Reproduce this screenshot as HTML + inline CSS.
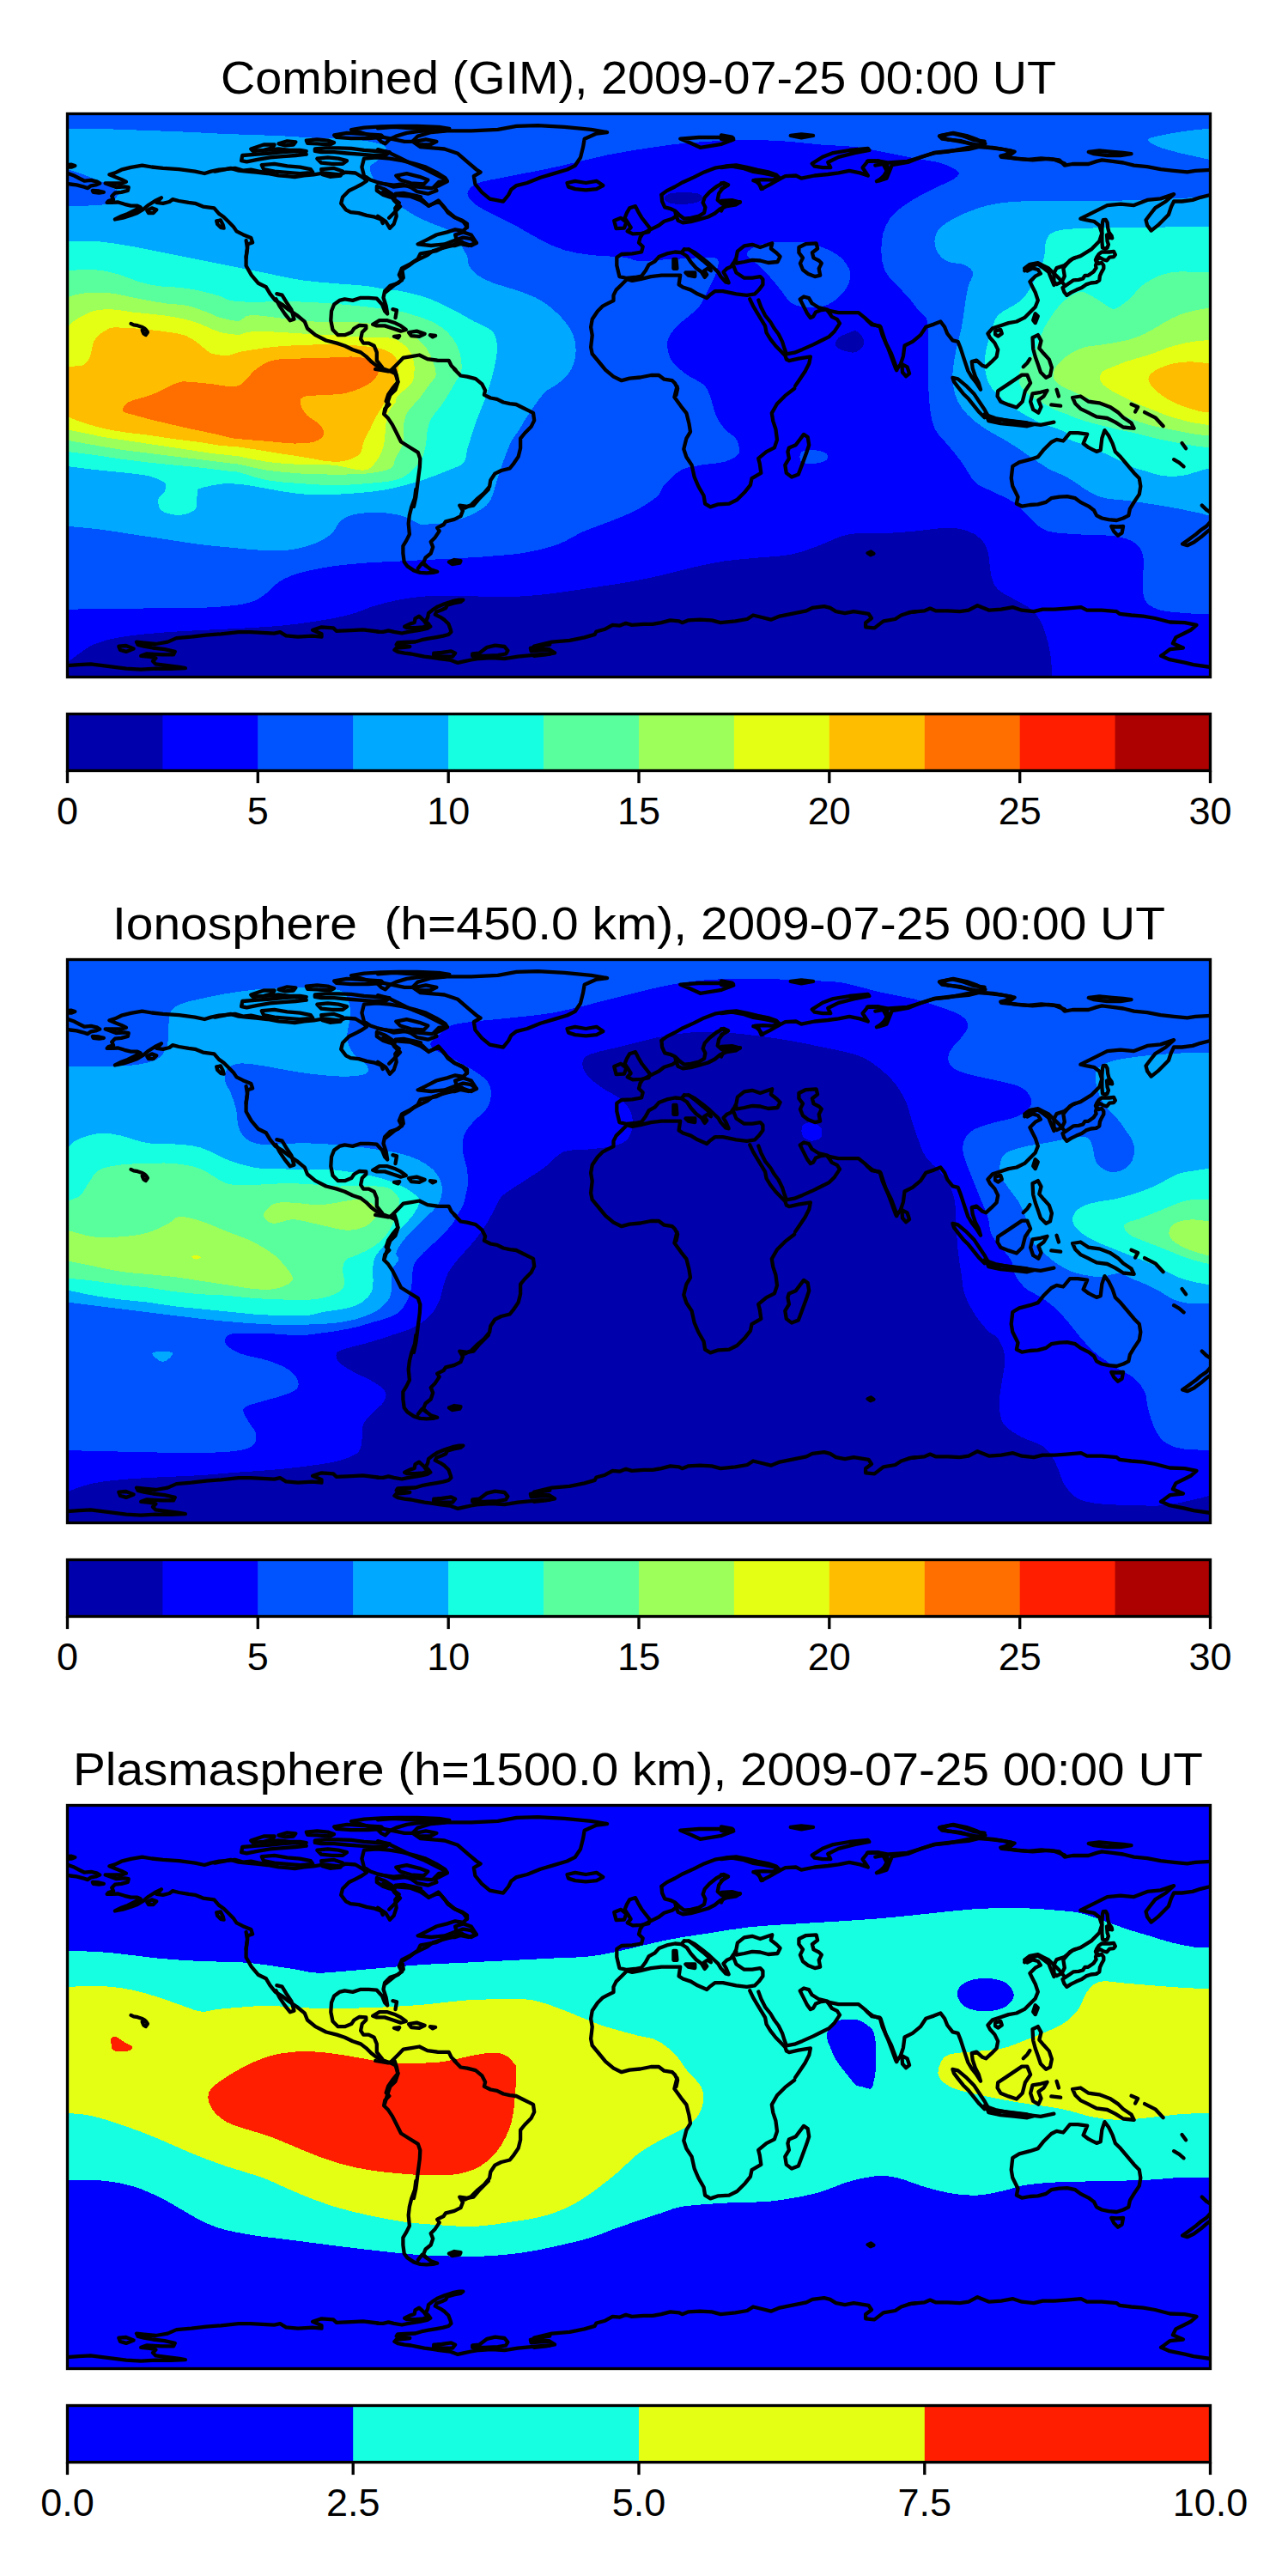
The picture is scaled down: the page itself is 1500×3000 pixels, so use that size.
<!DOCTYPE html><html><head><meta charset="utf-8"><style>html,body{margin:0;padding:0;background:#fff;}svg{display:block;}text{font-family:"Liberation Sans",sans-serif;fill:#000;}</style></head><body>
<svg width="1500" height="3000" viewBox="0 0 1500 3000">
<rect width="1500" height="3000" fill="#fff"/>
<defs><clipPath id="mc"><rect x="78.5" y="132.5" width="1331.0" height="656.0"/></clipPath>
<g id="coast" fill="none" stroke="#000" stroke-width="4.3" stroke-linejoin="round" stroke-linecap="round">
<path d="M78 192.1 82.7 191.6 87.3 193 83.6 194.5 78 194.5"/>
<path d="M78 201.4 85.5 204.2 92.9 208 98.5 210.7 106 209.8 113.4 211.7 116.2 213.5 111.5 215.4 106 216.3 102.2 219.1 96.6 217.3 89.2 215.4 81.7 214.5 78 213.5"/>
<path d="M107.8 221.9 115.3 222.5 120.9 223.8 115.3 224.7 108.7 223.8Z"/>
<path d="M286.7 300 287.6 291.8 288.6 284.3 294.1 282.5 292.3 276.9 283 273.2 275.5 269.4 271.8 263.9 266.2 258.3 260.6 252.7 255 248.9 249.4 242.4 236.4 240.6 227.1 236.8 219.6 235.9 208.4 234 201 232.2 197.3 235 189.8 236.8 182.3 235.9 187.9 230.3 180.5 234 173 238.7 167.4 243.4 160 248 152.5 250.8 143.2 253.6 133.9 255.5 141.4 251.7 148.8 248.9 156.3 245.2 163.7 241.5 160 239.6 152.5 239.6 145.1 237.8 137.6 235.5 130.2 235.9 124.6 235.9 126.4 234 132 232.2 130.2 228.4 133.9 224.7 141.4 223.8 148.8 221.9 149.7 218.2 145.1 217.3 135.8 218.2 128.3 215.4 122.7 213.5 133.9 213.5 141.4 213.5 146.9 211.7 141.4 208.9 133.9 206.1 127.4 203.3 133.9 201.4 141.4 197.7 152.5 194.9 165.6 192.7 176.8 194.5 189.8 195.8 208.4 197.1 227.1 199.6 238.2 202 245.7 199.6 255 197.7 264.3 196.8 273.7 195.8 283 198.6 292.3 197.7 301.6 199.6 310.9 201.4 318 202"/>
<path d="M171.2 245.2 176.8 242.4 182.3 244.3 178.6 248 173 248Z"/>
<path d="M252.2 257.3 256.9 256.4 259.7 262 260.6 265.7 256.9 264.8 253.2 261.1Z"/>
<path d="M250 199.6 259.3 197.8 268.6 195.9 278 198.7 287.3 199.6 298.4 200.6 311.5 202 324.5 204.3 333.9 205.2 343.2 206.1 354.3 204.3 365.5 203.4 376.7 201.5 386 202.4 395.3 203.4 402.8 200.6 414 201.5 423.3 207.1 427 210.8 421.4 214.5 414 218.3 406.5 222 399.1 229.4 397.2 236.9 402.8 244.3 408.4 247.1 417.7 248.1 427 250.9 436.3 252.7 443.8 255.5 445.7 260"/>
<path d="M453.1 253.7 460.6 246.2 466.1 240.6 458.7 233.2 460.6 225.7 469.9 224.8 482.9 227.6 490 229.4"/>
<path d="M480.4 164.8 489.7 171.1 517.6 173.5 533.2 178.8 545.6 189.7 554.9 197.5 559.6 200.6 551.8 205.2 553.4 214.5 561.1 223.9 570.4 231.6 586 234.7 592.2 227 595.3 220.7 601.5 216.1 613.9 213 629.4 206.8 645 202.1 660.5 197.5 669.8 192.8 676 183.5 679.1 171.1 680.7 161.7 694.7 155.5 707.1 154 688.4 150.9 657.4 147.8 626.3 146.2 601.5 146.8 579.8 150.9 548.7 152.4 520.7 152.4 502.1 154 486.6 158.6Z"/>
<path d="M660.5 213 669.8 210.8 682.2 213 694.7 210.8 702.4 216.1 694.7 220.1 682.2 221.4 669.8 220.1 662 217.6Z"/>
<path d="M440 174.2 452.4 177.3 464.8 183.5 477.3 189.7 492.8 195.9 502.1 200.6 514.5 206.8 520.7 211.4 511.4 216.1 502.1 219.2 486.6 217.6 471.1 216.1 458.6 217.6 449.3 214.5 440 213"/>
<path d="M440 149.3 458.6 147.8 480.4 149.3 502.1 150.9 517.6 152.4"/>
<path d="M440 158.6 455.5 161.7 471.1 164.8 480.4 164.8"/>
<path d="M440 251.8 449.3 258 454 265.8 458.6 261.1 461.7 251.8 460.2 242.5 464.8 236.3 458.6 231.6 446.2 223.9"/>
<path d="M446.2 223.9 458.6 227 477.3 228.5 489.7 233.2 499 239.4 511.4 234.7 520.7 245.6 530.1 253.4 539.4 258 544 264.2 539.4 268.9 530.1 267.3 520.7 270.4 508.3 273.5 495.9 279.8 486.6 284.4 502.1 286 517.6 284.4 530.1 279.8 539.4 276.6 548.7 278.2 554.9 282.9 548.7 286 539.4 282.9 530.1 286 520.7 286 508.3 292.2 489.7 295.3 486.6 301.5 477.3 307.7 468 312.4 464.8 320.1 468 326.3 458.6 332.5 449.3 340"/>
<path d="M530.1 273.5 539.4 270.4 548.7 273.5 554.9 282.9 545.6 286 533.2 283.5Z"/>
<path d="M286.6 280 288.1 289.3 286.6 298.6 286.6 309.5 292.8 320.4 300.6 329.7 309.9 334.3 314.5 342.1 320.7 349.9 328.5 354.5 336.3 360.7 345.6 367 354.9 374.7 358 382.5 367.3 390.2 379.8 396.5 392.2 399.6 401.5 402.7 410.8 407.3 420.1 410.4 426.3 415.1 432.5 421.3 438.8 426 445 429.1 454.3 432.2 460.5 435.3 463.6 444.6 460.5 453.9 454.3 460.1 451.2 469.4 448.1 480"/>
<path d="M322.3 342.1 328.5 343.7 333.2 351.4 339.4 360.7 342.5 371.6 337.8 373.2 331.6 365.4 325.4 356.1 321.4 348.3"/>
<path d="M445 427.5 438.8 419.8 438.8 410.4 435.7 402.7 429.4 399.6 423.2 399.6 420.1 394.9 421.7 387.1 426.3 382.5 426.3 379.4 418.6 378.8 412.4 382.5 409.3 387.1 401.5 390.2 393.7 390.2 387.5 384 385.3 373.2 386 362.3 389.1 354.5 395.3 349.9 401.5 348.3 410.8 349.9 420.1 346.8 429.4 346.8 438.8 347.7 445 354.5 448.1 362.3 451.2 365.4 449.6 356.1 446.5 346.8 448.1 339 454.3 332.8 463.6 329.7 469.8 323.5 468.3 314.2 476 309.5 482.2 304.8 488.4 301.7 497.8 297.1 504 292.4 513.3 289.3 525.7 286.2 531.9 283.1 538.1 281.6"/>
<path d="M454.3 432.2 463.6 422.9 469.8 416.6 479.1 415.1 488.4 413.5 497.8 418.2 510.2 419.8 522.6 419.8 525.7 426 530.4 430.6"/>
<path d="M434.1 377.8 441.9 373.2 451.2 373.2 460.5 376.3 466.7 379.4 472.9 384 466.7 385.6 457.4 382.5 448.1 379.4 438.8 379.4Z"/>
<path d="M476 387.1 485.3 385.6 494.7 388.7 488.4 391.8 479.1 391.2Z"/>
<path d="M458.9 391.8 465.2 391.2 463.6 393.4Z"/>
<path d="M500.9 390.2 507.1 390.9 504 392.4Z"/>
<path d="M457.4 360.1 462 361.4 460.5 370.1"/>
<path d="M152.5 376.9 155.6 378.4 160.3 379.2 165 380.7 168.1 382.3 170.4 384.6 171.9 387 169.6 390.1 167.3 388.5 165.7 384.6"/>
<path d="M437.1 430 444.6 431.2 452 432.5 459.5 430 462 437.5 463.2 444.9 457 452.4 452 459.8 449.6 467.3 453.3 471 448.3 476 447.1 482.2 452 487.1 457 494.6 462 504.5 467 514.5 476.9 520.7 486.8 526.9 489.3 534.3 488.8 544.3 486.8 559.2 485.6 569.1 484.3 579.1 481.9 590"/>
<path d="M529.1 430 536.5 437.5 544 438.7 553.9 441.2 561.4 447.4 565.1 454.8 563.9 459.8 571.3 463.5 578.8 464.8 586.2 468.5 593.7 470.2 601.1 471 608.6 474.7 616 478.4 621 480.9 622.2 489.6 618.5 497.1 611.1 504.5 606.1 510.7 606.1 521.9 603.6 531.9 598.6 539.3 593.7 545.5 583.7 548 576.3 551.7 571.3 559.2 570.1 566.6 563.9 574.1 556.4 580.3 548.9 587.8 541.5 591.5"/>
<path d="M484.3 570 483.1 579.9 479.4 589.9 476.9 599.8 475.7 609.8 476.9 622.2 473.2 629.6 469.4 635.8 469.4 644.5 470.7 654.5 474.4 659.4 481.9 664.4 489.3 666.9 496.8 667.4 504.2 666.9 509.2 665.7 501.7 663.2 496.8 659.4 493 655.7 495.5 649.5 501.7 644.5 504.2 637.1 501.7 630.9 506.7 625.9 511.7 618.4 509.2 614.7 516.6 611 519.1 607.3 529.1 604.8 536.5 601.1 539 594.8 535.3 588.6 544 589.9 551.4 588.6 558.9 579.9 566.3 572.5 568.8 570"/>
<path d="M486.8 661.9 491.8 655.7 496.8 659.4"/>
<path d="M522.9 654.5 529.1 652 536.5 653.2 535.3 655.7 526.6 657Z"/>
<path d="M798.4 317.5 809.3 317.5 809.3 322.1 801.5 320.6Z"/>
<path d="M784.4 301.9 787.5 301.9 788.4 312.8 784.4 312.8Z"/>
<path d="M857.4 300.4 858.9 292.6 866.7 286.4 876 284.8 885.3 288 894.7 284.8 899.3 283.3 897.8 289.5 904 294.2 908.6 298.8 905.5 305 894.7 306 885.3 303.5 876 302.9 866.7 305 857.4 306.6 855.8 303.5Z"/>
<path d="M930.4 288 938.1 284.2 950.6 283.3 952.1 289.5 945.9 294.2 947.5 300.4 953.7 303.5 956.8 306.6 953.7 312.8 955.2 320.6 949 322.1 941.2 319 935 314.3 931.9 306.6 935 300.4 930.4 294.2Z"/>
<path d="M854.3 309.7 857.4 317.5 866.7 323.7 876 323.7 885.3 322.1 888.4 325.2 888.4 331.4 883.8 337.6 879.1 342.3 869.8 343.9 857.4 342.3 841.9 339.2 832.5 339.2 826.3 343.9 823.2 347 812.4 342.3 804.6 337.6 795.3 334.5 790.6 331.4 792.2 320.6 782.9 320.6 770.4 320.6 758 322.1 745.6 325.2 736.3 326.8 730.1 325.2 723.9 331.4 717.6 337.6 714.5 343.9 714.5 350.1 708.3 353.2 702.1 356.3 695.9 362.5 689.7 371.8 688.1 381.1 689.7 390.4 688.1 404.4 689.7 412.2 697.5 421.5 705.2 430.8 714.5 438.6 723.9 443.2 733.2 440.7 745.6 439.5 758 437 767.3 437 773.5 441.7 782.9 443.2 786 446.3 789.1 452.5 787.5 460"/>
<path d="M788.5 450 785.4 462.4 793.2 473.3 799.4 481.1 802.5 493.5 804 502.8 799.4 510.6 796.3 523 799.4 532.3 805.6 541.6 808.7 555.6 813.4 566.5 819.6 577.3 821.1 586.6 827.3 590.4 836.6 587.3 849.1 586.6 858.4 582 867.7 572.7 873.9 564.9 875.5 557.1 886.3 550.9 884.8 540.1 883.2 533.9 892.5 526.1 901.9 521.4 905 512.1 903.4 499.7 900.3 490.4 898.8 481.1 905 470.2 914.3 460.9 925.2 452.5"/>
<path d="M918.9 521.4 926.7 518.3 936 505.9 940.7 509 942.2 518.3 939.1 527.6 934.5 540.1 929.8 552.5 922 555.6 915.8 550.9 914.3 541.6 918.9 533.9 917.4 526.1Z"/>
<path d="M1010.6 644.1 1014.3 642.5 1017.4 644.7 1013.7 646.3Z"/>
<path d="M840 195.2 852.4 193.7 864.8 195.8 877.3 199.9 889.7 202 902.1 204.5 906.8 209.2 895.9 215.4 886.6 220.1 883.5 212.3 877.3 210.1"/>
<path d="M906.8 209.2 914.5 205.2 927 204.5 933.2 207.6 948.7 204.5 964.2 203 976.6 201.4 989.1 198.9 1001.5 201.4 1010.8 204.5 1004.6 195.2 1010.8 187.5 1023.2 187.5 1032.5 190.6 1034.1 196.8 1029.4 204.5 1023.2 210.7 1032.5 207.6 1035.7 199.9 1038.8 192.1 1057.4 189 1072.9 182.8 1088.4 178.1 1104 176.6 1119.5 173.5 1135 170.4 1150.6 171.9 1166.1 173.5 1181.6 176.6 1175.4 181.2 1166.1 182.8 1181.6 184.3 1197.1 185.9 1212.7 184.3 1228.2 185.9 1240 190.6"/>
<path d="M945.6 190.6 958 182.8 970.4 178.1 989.1 175 1010.8 172.9 1012.4 175 995.3 178.1 976.6 182.8 964.2 189 967.3 195.2 958 195.2 948.7 193.7Z"/>
<path d="M920.7 158 933.2 156.4 947.1 158 933.2 160.4Z"/>
<path d="M1094.7 158 1110.2 154.8 1125.7 158 1138.1 162.6 1147.5 167.3 1135 168.8 1119.5 164.2 1104 162.6Z"/>
<path d="M840 157.3 852.4 159.5 854 161.1 843.1 162.6 840 162"/>
<path d="M840 213.2 847.8 215.4 843.1 218.5 840 220.1"/>
<path d="M840 234 852.4 233.1 861.7 235.6 852.4 238.1 843.1 239.3 840 245.5"/>
<path d="M1010 187.9 1022.4 187.3 1034.8 189.5 1056.6 187.9 1072.1 183.2 1087.6 178 1109.4 175.5 1128 173.9 1140.4 170.8 1156 171.8 1177.7 175.5 1171.5 180.1 1165.3 181.7 1183.9 184.8 1202.5 186.3 1221.2 184.8 1233.6 186.3 1239.8 192.6 1249.1 191 1267.8 191 1277.1 187.9 1283.3 186.3 1295.7 187.9 1308.1 189.5 1320.6 192.6 1336.1 194.1 1351.6 197.2 1367.1 198.8 1382.7 200.3 1392 198.8 1410.6 197.8"/>
<path d="M1093.9 158.4 1109.4 155.3 1121.8 158.4 1134.2 163.1 1146.6 164.6 1140.4 169.3 1124.9 166.2 1109.4 163.1 1097 161.5Z"/>
<path d="M1267.8 177 1280.2 175.5 1295.7 177 1308.1 178 1317.5 179.2 1305 181.1 1289.5 181.1 1274 179.2Z"/>
<path d="M1019.3 192.6 1028.6 191 1033.3 200.3 1028.6 206.5 1020.9 211.2"/>
<path d="M1239.8 332 1233.6 324.5 1227.4 318.3 1230.5 312.1 1239.8 309 1249.1 301.3 1258.4 298.1 1270.9 290.4 1280.2 281.1 1283.3 271.8 1280.2 262.4 1274 257.8 1264.7 256.2 1258.4 254.7 1274 246.9 1289.5 239.1 1305 237.6 1320.6 239.1 1336.1 232.9 1351.6 231.4 1367.1 226.1 1357.8 234.5 1345.4 242.2 1339.2 250 1334.5 256.2 1336.1 262.4 1340.7 268.6 1348.5 262.4 1354.7 256.2 1360.9 250 1364 240.7 1367.1 234.5 1376.5 234.5 1388.9 232.9 1398.2 229.8 1410.6 226.7"/>
<path d="M1193.2 315.2 1199.4 310.6 1208.8 307.5 1215 312.1 1221.2 316.8 1224.3 324.5 1227.4 332"/>
<path d="M1010 373 1016.2 377.6 1025.5 380.7 1028.6 390.1 1031.7 399.4 1038 411.8 1042.6 424.2 1044.2 430.4 1048.8 424.2 1051.9 414.9 1053.5 402.5 1062.8 397.8 1072.1 390.1 1078.3 380.7 1087.6 377.6 1095.4 374.5 1100.1 380.7 1103.2 388.5 1109.4 396.3 1115.6 397.8 1118.7 405.6 1121.2 413.4 1124.3 422.7 1127.4 432 1131.7 439.1 1136.7 445.3 1142 453.7 1139.8 446 1135.8 438.2 1132.7 428.9 1131.7 421.1 1137.3 419.6 1144.2 425.8 1148.2 427.3 1154.4 421.7 1160.6 415.5 1162.2 407.1 1158.4 399.4 1152.9 393.2 1150.4 388.5 1156 382.3 1165.3 379.2 1174.6 376.1 1183.9 374.5 1193.2 369.9 1199.4 363.7 1205.7 357.5 1208.8 349.7 1205.7 340.4 1202.5 334.2 1199.4 328 1205.7 321.7 1211.9 318.6 1208.8 314 1202.5 312.4 1196.3 315.5 1193.2 312.4 1199.4 307.8 1208.8 306.2 1215 309.3 1221.2 312.4 1227.4 318.6 1227.4 328 1230.5 331.1 1236.7 328 1239.8 321.7 1238.3 312.4 1246 303.1 1252.2 300"/>
<path d="M1050.4 424.2 1056.6 427.3 1059.1 435.1 1055 438.2 1051 433.5Z"/>
<path d="M1159.1 385.4 1165.3 383.9 1166.8 388.5 1162.2 391.6 1159.1 389.4Z"/>
<path d="M1205.7 365.2 1208.8 368.3 1205.7 376.1 1203.2 373Z"/>
<path d="M1202.5 393.2 1208.8 390.1 1212.5 396.9 1210.3 405.6 1215.6 411.8 1221.8 418.6 1224.9 428 1223 437.3 1218.1 439.8 1211.9 433.5 1208.8 424.2 1205.7 415.5 1203.2 406.2Z"/>
<path d="M1191.7 427.3 1196.3 422.7 1199.4 418"/>
<path d="M1109.4 439.8 1115.6 441.3 1124.9 449.1 1134.2 458.4 1140.4 467.7 1146.6 477 1150.4 483.9 1146.6 486.3 1140.4 480.1 1134.2 472.4 1128 464.6 1121.8 458.4 1115.6 450.6 1110.9 444.4Z"/>
<path d="M1162.2 455.3 1171.5 449.1 1180.8 442.9 1190.1 436.6 1196.3 436.6 1200.1 446 1193.9 455.3 1190.7 467.7 1183.9 474.5 1174.6 471.4 1165.3 467.7 1161.6 461.5Z"/>
<path d="M1149.8 486.3 1159.1 487.9 1171.5 489.4 1183.9 491 1196.3 492.5 1203.2 494.4 1196.3 496.3 1180.8 494.7 1165.3 493.2 1151.3 490.1Z"/>
<path d="M1202.5 458.4 1211.9 456.8 1219.6 454.7 1215.6 461.5 1209.4 466.1 1212.5 473.9 1209.4 480.7 1203.2 477 1200.1 467.7Z"/>
<path d="M1249.1 463 1258.4 461.5 1267.8 467.7 1280.2 469.3 1292.6 473.9 1301.9 480.1 1308.1 486.3 1317.5 492.5 1320.6 498.8 1308.1 497.5 1298.8 491.6 1289.5 487 1277.1 485.4 1267.8 480.7 1258.4 476.1 1252.2 469.9Z"/>
<path d="M1224.3 471.4 1235.2 472.7"/>
<path d="M1230.5 453.7 1233 461.5"/>
<path d="M1317.5 470.8 1325.2 473.9 1322.1 479.5"/>
<path d="M1333 480.1 1345.4 486.3 1354.7 496.3"/>
<path d="M1179.3 543 1187 538.3 1199.4 535.2 1208.8 532.1 1215 524.3 1224.3 515 1230.5 511.9 1238.3 513.5 1246 504.2 1255.3 504.2 1266.2 505.7 1261.6 516.6 1267.8 521.2 1277.1 525.9 1281.7 524.3 1283.3 510.4 1286.4 501.1 1291.1 507.3 1295.7 516.6 1298.8 525.9 1305 532.1 1312.8 541.4 1320.6 550.7 1326.8 557 1328.3 566.3 1326.8 575.6 1320.6 584.9 1315.9 592.7 1314.3 600.4 1308.1 603.5 1300.4 606 1291.1 605.1 1283.3 603.5 1277.1 600.4 1274 594.2 1267.8 589.6 1258.4 584.9 1252.2 580.2 1242.9 578.1 1233.6 578.7 1224.3 580.2 1218.1 584.9 1208.8 587.4 1199.4 588 1190.1 589.6 1183.9 586.5 1185.5 578.7 1182.4 572.5 1179.3 566.3 1177.7 557Z"/>
<path d="M1294.2 612.9 1300.4 613.5 1308.1 612.9 1306.6 620.6 1301.9 623.7 1297.3 619.1Z"/>
<path d="M1399.8 588.6 1405 593.6 1410.6 597.3"/>
<path d="M1410.6 606.6 1405 612.9 1398.2 617.5 1392 622.8 1384.2 628.4 1377.1 633.4 1382.7 635.2 1390.4 631.5 1398.8 625.3 1406 619.1 1410.6 616"/>
<path d="M1376.5 516 1381.1 522.2"/>
<path d="M1367.1 535.2 1373.4 538.9 1378.6 543.3"/>
<path d="M1146.6 482.4 1159.1 487.1 1174.6 490.2 1187 491.7 1199.4 493.3 1211.9 494.8 1227.4 491.7"/>
<path d="M78 775.1 91.8 774.1 105.6 773.4 119.4 775.1 133.2 776.9 146.9 778.6 164.2 779.6 181.4 778.6 198.7 778.9 215.9 778.2 209 776.9 195.2 775.1 181.4 773.4 178 770 181.4 766.5 174.5 764.8 164.2 763.8 171.1 761.4 188.3 762.4 202.1 762.4 203.8 758.9 191.8 756.2 178 754.5 167.6 752.7 160.7 751 159 747.6 167.6 748.6 181.4 750 195.2 747.6 205.5 743.1 222.8 741.7 240 739.6 257.3 738.3 277.9 736.2 291.7 736.2 305.5 736.9 319.3 737.6 326.2 736.2 333.1 740.3 346.9 741.7 364.1 740.7 374.5 741.7 374.5 738.3 364.1 733.8 374.5 730.3 388.2 731.4 391.7 734.8 408.9 734.1 422.7 733.4 440 735.5"/>
<path d="M138.3 752.7 146.9 752 155.6 755.5 146.9 758.9 140 756.9Z"/>
<path d="M440 735.9 446.2 735.9 452.4 734.3 458.6 735.9 468 737.5 475.7 735.9 483.5 734.7 489.7 733.6 497.5 732 501.3 729.7 499 726.6 495.9 723.5 498.2 718.8 499 714.2 503.7 710.3 509.9 706.4 517.6 703.3 527 700.2 534.7 698.6 539.4 698.6 536.3 701 528.5 702.5 520.7 704.8 519.2 708 514.5 710.3 508.3 712.6 506.8 715.7 513 718.8 517.6 721.9 522.3 726.6 524.6 732.8 525.4 735.9 522.3 739 516.1 740.6 508.3 742.1 499 743.7 491.2 745.2 483.5 747.5 471.1 748 463.3 748.3 461.7 750.7 471.1 752.2 477.3 753 471.1 753.8 461.7 754.5 459.4 756.9 463.3 759.2 471.1 760.7 478.8 761.5 486.6 763.1 494.3 764.6 502.1 765.7 511.4 767 523.9 768.5 533.2 771.9 540.9 770.1 548.7 768.5 558 767 572 766.2 587.5 767 593.7 766.2 603 764.6 610.8 763.9 618.6 763.1 626.3 762.3 640.3 761.5"/>
<path d="M471.1 729.7 477.3 726.6 482.7 725 483.5 720.4 488.1 717.7 493.6 722.7 497.5 728.1 492.8 730.5 483.5 731.2 474.2 731.2Z"/>
<path d="M505.2 760.7 514.5 760 525.4 758.4 530.1 760.7 527 764.6 514.5 764.6 505.2 763.9Z"/>
<path d="M550.2 761.5 558 760.7 567.3 753.8 576.6 751.7 587.5 753 591.4 757.6 589.1 761.5 579.8 763.1 564.2 763.9 550.2 763.9Z"/>
<path d="M640.3 750.7 626.3 753 617.8 754.8 618.6 758.4 626.3 757.6 640.3 756.9"/>
<path d="M622 752.7 642.7 747.6 663.4 745.8 680.6 742.4 692.7 738.9 694.4 735.5 704.7 732.7 713.4 727.9 722 728.6 728.9 725.8 735.8 727.9 749.5 726.9 759.9 726.9 770.2 725.2 780.6 722.4 790.9 723.4 794.4 725.2 801.3 722.4 815 721.7 828.8 722.4 839.2 725.2 856.4 723.4 870.2 721 877.1 716.5 887.4 719 897.8 721.7 908.1 717.6 925.4 714.1 939.1 711.4 946 707.9 959.8 706.2 966.7 707.9 973.6 712.1 984 714.1 994.3 712.1 1011.5 714.8 1015 720 1008.1 725.2 1008.1 730.3 1018.4 731.4 1028.8 723.4 1042.6 721 1049.5 716.5 1059.8 713.1 1066.7 712.1"/>
<path d="M622 756.2 639.2 756.2 646.1 760.3 635.8 762.4 622 763.8"/>
<path d="M1059.1 713.1 1076.3 711.4 1083.2 708.6 1090.1 711.4 1103.9 711.4 1117.7 712.1 1128 710.7 1138.4 705.2 1152.1 710.7 1165.9 709.6 1179.7 707.2 1190.1 710.7 1203.9 712.1 1214.2 709.6 1228 709.6 1241.8 708.6 1259 707.2 1265.9 710.7 1283.1 710.7 1300.4 712.1 1303.8 714.8 1317.6 716.5 1331.4 717.6 1345.2 720 1362.4 724.5 1379.7 725.2 1393.5 727.9 1386.6 733.8 1379.7 737.2 1369.3 742.4 1365.9 749.3 1377.9 754.5 1362.4 756.2 1355.5 761.4 1352.1 763.8 1362.4 768.2 1379.7 771.7 1390 774.1 1414.1 777.6"/>
<path d="M770.4 226.8 776.6 222.1 786 217.5 795.3 212.2 807.7 206.6 820.1 200.4 832.5 195.7 845 193.5 857.4 192.3 869.8 194.8 882.2 197.9 894.7 200.4 904 203.5 907.7 207.2 899.3 209.7 888.4 209.1 879.1 209.7 883.8 214.3 888.4 219.6"/>
<path d="M770.4 226.8 771.1 234.5 774.2 241.4 781.3 243.2 786 245.4 791.6 250.7 796.8 254.7 804.6 253.8 813.9 251.6 820.1 247.9 821.4 241.4 818.6 236.1 820.7 229.9 826.3 223.7 834.1 217.5 842.5 212.8 848.1 215.3 841.9 219 837.2 225.2 835.7 233 840.3 237 851.2 235.2 862 235.2 857.4 238.3 846.5 240.1 838.8 243.2 832.5 248.5 824.8 252.5 813.9 255.7 804.6 258.1 795.3 259.4 789.7 256.9 787.5 251.6 786 245.4"/>
<path d="M733.2 242.3 740 240.1 743.1 246.3 747.1 253.2 752.4 260 756.8 265.6 755.5 270.2 747.1 271.8 736.9 272.4 730.7 269.3 734.7 265 731.6 260 727.6 253.8 730.1 247.6Z"/>
<path d="M715.2 256.9 723.2 253.8 729.4 258.8 727 265.6 717.6 266.2Z"/>
<path d="M787.5 251.6 782.9 254.7 773.5 257.8 767.3 262.5 758 267.1 748.7 271.8 745.6 276.5 744 282.7 748.7 287.3 747.1 293.5 736.3 295.4 723.9 296 718.3 299.8 718.3 309.1 720.1 316.8 721.4 322.1 730.1 324 739.4 323 747.1 321.5 751.8 315.3 755.5 308.4 762.7 304.4 767.3 299.1 776.6 295.4 786 293.5 793.7 294.2 796.8 290.4"/>
<path d="M792.2 161.6 804.6 166.8 815.5 171.8 827.9 169.9 840.3 167.8 854.3 162.5 838.8 160 813.9 160Z"/>
<path d="M793.7 294.2 799.9 298.2 804.6 305.3 810.8 312.2 817 316.8 820.7 323 823.2 319.9 820.1 315.3 823.9 312.8 827.9 315.3 825.7 309.7 818.6 303.5 810.2 296.6 802.1 290.4 796.8 290.4"/>
<path d="M802.1 290.4 809.3 294.2 817.6 300.4 826.3 307.5 831.9 312.8 836.3 316.8 839.4 322.1 845 328.3 848.7 329.3 845.6 322.1 842.5 316.8 846.5 312.8 851.2 310.6 854.3 306 857.4 302.9"/>
<path d="M1284.7 256.2 1287.8 255.9 1289.6 259.3 1290.2 265.5 1291.5 270.5 1294.6 274.8 1295.2 277.3 1290.9 276.7 1289 273.6 1289.6 281.1 1290.9 284.8 1289.6 288.5 1287.1 289.8 1284 288.5 1283.4 281.1 1283.4 267.4 1284 259.3Z"/>
<path d="M1276 302.8 1277.2 299.7 1279.7 296 1283 293.5 1292.1 293.5 1297.1 292.9 1298.9 296.6 1297.1 299.1 1292.1 299.7 1289 303.4 1284.7 302.2 1281 300Z"/>
<path d="M1276 302.8 1277.2 305.9 1276 309 1276.6 312.1 1273.5 316.5 1267.3 320.8 1263.5 320.8 1261.1 324.5 1256.1 325.8 1249.9 326.4 1243.7 330.7 1237.5 335.1 1239.3 340.1 1242.4 343.8 1247.4 340.7 1253.6 337.6 1259.8 335.1 1264.8 331.4 1270.4 329.5 1276.6 328.9 1280.3 326.4 1280.9 321.4 1282.8 317.1 1285.3 312.7 1285.3 309 1282.8 305.9 1279.7 307.1Z"/>
<path d="M491.8 232.6 499.3 240 510.4 233.5 517.9 241.9 521.6 247.5 529.1 253.1 538.4 256.8 544 260.5 544 265"/>
<path d="M873.2 348.3 877.1 356.4 881.7 364.2 886.4 371.9 891.1 379.7 892.6 387.5 897.3 395.2 903.5 403 909.7 409.2 914.3 413.9 915.9 418.5 919 420.1 929.9 417.7 943.9 415.4 942.3 423.2 937.6 432.5 931.4 441.8 926 449.6"/>
<path d="M883.3 349.4 886.4 358 891.1 367.3 897.3 375 901.9 382.8 906.6 389 911.2 398.3 913.6 406.1 915.9 412.3 925.2 410.7 934.5 406.9 947 401.4 956.3 396.8 965.6 392.1 971.8 385.9 978 376.6 974.9 371.9 968.7 368.8 965.6 364.2 962.5 360.3 956.3 361.1 950.1 363.4 947 368.8 943.9 370.1 940 364.9 935.3 355.6 931.7 348.6 936.1 345.5 942 347.1 945.7 353.3 953.2 358 962.5 360.3 965.6 361.8 976.5 364.2 999.8 364.2 1007.5 370.4 1015.3 378.1 1024.6 379.7 1027.7 390.6 1033.9 404.5 1038.6 417 1043.2 429.4 1044.2 431.2"/>
<path d="M292.2 173.5 307.1 168.5 319.6 168.5 317.1 172.3 307.1 174.8 294.7 176Z"/>
<path d="M282.3 181 299.7 179.7 314.6 178.5 329.5 177.2 344.4 176 354.3 177.2 356.8 179.7 344.4 181 329.5 182.2 314.6 183.4 299.7 185.9 287.3 188.4 281.1 187.2Z"/>
<path d="M309.6 174.8 324.5 173.5 337 174.8 349.4 174.8 356.8 176"/>
<path d="M324.5 167.3 334.5 164.3 344.4 165.3 341.9 168.5 332 169.3Z"/>
<path d="M356.8 163.6 369.3 162.3 381.7 163.6 389.1 166.1 384.2 168.5 369.3 167.3 358.1 166.8Z"/>
<path d="M366.8 173.5 379.2 172.3 394.1 172.3 409 172.8 423.9 174.8 438.8 176 453.7 177.2 448.8 181 433.9 181 418.9 179.7 404 178.5 389.1 177.2 374.2 177.2 366.8 176Z"/>
<path d="M369.3 184.7 381.7 183.4 394.1 184.7 404 187.2 399.1 190.9 386.6 190.9 374.2 189.7Z"/>
<path d="M304.7 192.1 319.6 190.9 334.5 193.4 349.4 194.6 361.8 197.1 364.3 200.8 349.4 202.1 334.5 200.8 319.6 199.6 307.1 197.1Z"/>
<path d="M374.2 197.1 389.1 195.9 399.1 199.6 396.6 204.6 384.2 205.8 375.5 203.3Z"/>
<path d="M389.1 157.4 404 154.9 423.9 156.1 443.8 157.4 446.3 159.8 428.9 161.1 409 161.1 391.6 159.8Z"/>
<path d="M409 151.1 423.9 148.7 443.8 147.4 463.7 146.9 486 146.9 510.9 147.9 523.3 149.9 508.4 151.9 488.5 152.9 473.6 154.9 461.2 158.6 453.7 162.3 448.8 167.3 443.8 164.8 438.8 159.8Z"/>
<path d="M423.9 184.7 438.8 183.4 453.7 184.7 468.6 187.2 483.5 190.9 496 194.6 508.4 200.8 518.3 207 520.8 210.8 510.9 212 505.9 217 508.4 222 498.4 225.7 486 223.2 478.6 218.2 468.6 214.5 458.7 215.7 448.8 214.5 438.8 212 431.4 209.5 423.9 204.6 421.4 194.6Z"/>
<path d="M438.8 217 448.8 220.7 456.2 225.7 453.7 229.4 446.3 226.9 438.8 222Z"/>
<path d="M483.5 164.8 496 162.3 508.4 164.8 500.9 168.5 488.5 168.5Z"/>
<path d="M461.2 204.6 473.6 202.1 488.5 205.8 498.4 209.5 493.5 214.5 478.6 213.3 466.1 209.5Z"/>
</g></defs>
<g transform="translate(0,0)">
<text x="257" y="109" font-size="53" textLength="973" lengthAdjust="spacingAndGlyphs">Combined (GIM), 2009-07-25 00:00 UT</text>
<g clip-path="url(#mc)" shape-rendering="crispEdges">
<path fill="#0054ff" d="M0 0H1500V1000H0Z"/>
<path fill="#0000ff" d="M78.5 710 L78 709.8 C84.5 709.7 103.9 709.2 116.8 709 C129.8 708.8 142.7 708.8 155.6 708.6 C168.6 708.5 181.5 708.4 194.5 708.3 C207.4 708.1 220.3 708.4 233.3 707.9 C246.2 707.3 261.7 706.4 272.1 705.1 C282.5 703.9 288.9 702.6 295.4 700.1 C301.9 697.6 305.7 694.3 310.9 690.4 C316.1 686.5 320 680.7 326.4 676.8 C332.9 672.9 339.4 670 349.7 667.1 C360.1 664.2 375.6 661.3 388.6 659.3 C401.5 657.4 414.4 656.4 427.4 655.5 C440.3 654.5 453.3 654.2 466.2 653.5 C479.1 652.9 492.1 652.2 505 651.6 C518 650.9 532.7 650.3 543.8 649.6 C554.9 649 560.5 648.7 571.6 647.7 C582.7 646.7 597.5 646.1 610.5 643.8 C623.4 641.5 637.6 638.3 649.3 634.1 C660.9 629.9 670 623.1 680.3 618.6 C690.7 614.1 701 611.1 711.4 606.9 C721.7 602.7 733.4 598.2 742.4 593.3 C751.5 588.5 760.6 582.5 765.7 577.8 C770.9 573.1 769 570.1 773.5 565 C778 560 785.8 551.5 792.9 547.6 C800 543.7 807.8 543.4 816.2 541.7 C824.6 540.1 836.3 539.8 843.4 537.9 C850.5 535.9 856 532.7 858.9 530.1 C861.8 527.5 861.2 525.6 860.8 522.3 C860.5 519.1 859.9 514.6 857 510.7 C854.1 506.8 847.3 503.6 843.4 499 C839.5 494.5 836.3 489.3 833.7 483.5 C831.1 477.7 830.1 469.9 827.9 464.1 C825.6 458.3 824.6 453.1 820.1 448.6 C815.6 444 806.8 441.5 800.7 436.9 C794.5 432.4 787.1 426.6 783.2 421.4 C779.3 416.2 778.2 410.5 777.4 405.9 C776.6 401.3 776.7 398.1 778.5 393.7 C780.4 389.4 783.8 384.5 788.2 379.9 C792.6 375.3 800.2 370.2 804.8 366.1 C809.4 361.9 812.6 359.6 815.9 355 C819.1 350.4 821.4 344 824.2 338.4 C826.9 332.9 830.4 327.6 832.4 321.9 C834.5 316.1 837.5 307.6 836.6 303.9 C835.7 300.2 833.1 300.2 826.9 299.8 C820.7 299.3 808.5 300.7 799.3 301.1 C790.1 301.6 780.9 302.1 771.6 302.5 C762.4 303 751.5 304.4 744 303.9 C736.5 303.4 736.2 300.9 726.9 299.7 C717.6 298.5 699.7 298.4 688.1 297 C676.5 295.6 666.7 294.1 657 291.2 C647.3 288.2 638.9 284 629.9 279.5 C620.8 275 612.4 269.2 602.7 264 C593 258.8 580.1 253 571.6 248.5 C563.2 243.9 556.8 240.7 552.2 236.8 C547.7 232.9 543.8 229 544.5 225.2 C545.1 221.3 548.3 216.8 556.1 213.5 C563.9 210.3 575.5 209 591 205.8 C606.6 202.5 629.9 198.3 649.3 194.1 C668.7 189.9 688.1 184.4 707.5 180.5 C726.9 176.6 749.6 173.2 765.7 170.8 C781.9 168.4 791.6 167.3 804.6 166.2 C817.5 165 830.4 164.3 843.4 163.8 C856.3 163.3 869.3 162.9 882.2 163.1 C895.1 163.2 908.1 164 921 165 C934 166 947.7 167.9 959.8 168.9 C972 169.8 982.7 169.5 993.9 170.8 C1005 172.1 1014.6 174.4 1026.5 176.6 C1038.4 178.9 1053.6 182.1 1065.3 184.4 C1076.9 186.7 1087.9 187.6 1096.3 190.2 C1104.7 192.8 1113.2 197 1115.7 199.9 C1118.3 202.8 1115.7 204.8 1111.9 207.7 C1108 210.6 1098.9 214.2 1092.5 217.4 C1086 220.6 1079.5 223.6 1073 227.1 C1066.6 230.7 1059.5 234.5 1053.6 238.8 C1047.8 243 1042.3 246.8 1038.1 252.3 C1033.9 257.8 1030.3 264.6 1028.4 271.8 C1026.5 278.9 1026.1 287.9 1026.5 295 C1026.8 302.2 1027.8 308.6 1030.3 314.5 C1032.9 320.3 1037.5 324.8 1042 330 C1046.5 335.2 1053 340.3 1057.5 345.5 C1062 350.7 1065.6 356.8 1069.2 361 C1072.7 365.3 1076.9 366.7 1078.9 370.9 C1080.8 375.2 1080.5 376.1 1080.8 386.5 C1081.1 396.8 1080.5 418.8 1080.8 433 C1081.1 447.3 1081.5 460.9 1082.7 471.9 C1084 482.9 1085 491.3 1088.6 499 C1092.1 506.8 1098.9 512 1104.1 518.5 C1109.3 524.9 1114.5 530.7 1119.6 537.9 C1124.8 545 1130 555.8 1135.2 561.2 C1140.3 566.5 1142.9 566 1150.7 570.1 C1158.4 574.1 1173.3 579.8 1181.7 585.6 C1190.2 591.4 1194.7 599.5 1201.1 605 C1207.6 610.5 1210.9 615.7 1220.6 618.6 C1230.3 621.5 1246.4 621.5 1259.4 622.5 C1272.3 623.4 1287.8 622.8 1298.2 624.4 C1308.6 626 1316 628.3 1321.5 632.2 C1327 636 1329.6 640.6 1331.2 647.7 C1332.8 654.8 1330.9 666.5 1331.2 674.9 C1331.5 683.3 1330.2 692.3 1333.1 698.2 C1336 704 1341.5 707.2 1348.7 709.8 C1355.8 712.4 1365.6 712.7 1375.8 713.7 C1386.1 714.7 1404.3 715.3 1410 715.6 L1409.5 716 L1439.5 716 L1439.5 810 L48.5 810 L48.5 710 L78.5 710Z"/>
<path fill="#0000ad" d="M78.5 772 L78 771.9 C80.6 770 88.4 763.8 93.5 760.3 C98.7 756.7 101.9 753.5 109.1 750.6 C116.2 747.7 125.2 744.9 136.2 742.8 C147.2 740.7 162.1 739.1 175 737.8 C188 736.5 200.9 735.8 213.9 735 C226.8 734.3 239.7 733.7 252.7 733.1 C265.6 732.5 278.6 731.9 291.5 731.2 C304.4 730.4 317.4 729.7 330.3 728.4 C343.3 727.1 356.2 725.5 369.1 723.4 C382.1 721.3 397 718.5 408 715.6 C419 712.7 425.4 708.8 435.1 705.9 C444.8 703 455.8 700.1 466.2 698.2 C476.6 696.2 487.5 695.1 497.3 694.3 C507 693.5 515.4 693.5 524.4 693.5 C533.5 693.5 543.7 694 551.6 694.3 C559.5 694.5 561.8 695.1 571.6 695.1 C581.4 695.1 597.5 695.1 610.5 694.3 C623.4 693.5 636.3 692 649.3 690.4 C662.2 688.8 675.2 686.5 688.1 684.6 C701 682.6 714 681 726.9 678.8 C739.9 676.5 752.8 673.9 765.7 671 C778.7 668.1 791.6 664.2 804.6 661.3 C817.5 658.4 830.4 655.5 843.4 653.5 C856.3 651.6 869.3 650.9 882.2 649.6 C895.1 648.3 909.4 648 921 645.8 C932.7 643.5 941 639.9 952.1 636 C963.2 632.2 975.2 624.9 987.6 622.5 C1000 620 1013.5 621.9 1026.5 621.3 C1039.4 620.7 1052.3 619.7 1065.3 618.6 C1078.2 617.5 1093.7 614.7 1104.1 614.7 C1114.5 614.7 1120.9 616.3 1127.4 618.6 C1133.9 620.8 1139 624.1 1142.9 628.3 C1146.8 632.5 1148.7 636.7 1150.7 643.8 C1152.6 650.9 1152.6 663.9 1154.6 671 C1156.5 678.1 1157.8 682 1162.3 686.5 C1166.9 691 1175.3 694.3 1181.7 698.2 C1188.2 702 1196 705.3 1201.1 709.8 C1206.3 714.3 1209.6 718.9 1212.8 725.3 C1216 731.8 1218.6 740.9 1220.6 748.6 C1222.5 756.4 1223.5 761.6 1224.4 771.9 C1225.4 782.3 1226.1 804.3 1226.4 810.7 L1226 810 L48.5 810 L48.5 772 L78.5 772Z"/>
<path fill="#0000ad" d="M773.5 231 C773.5 229 776.1 226.3 781.3 225.2 C786.4 224.1 798.7 224.1 804.6 224.4 C810.4 224.7 814.3 225.6 816.2 227.1 C818.1 228.7 818.8 232 816.2 233.7 C813.6 235.5 806.5 237.1 800.7 237.6 C794.9 238.1 785.8 237.9 781.3 236.8 C776.7 235.7 773.5 232.9 773.5 231Z"/>
<path fill="#0000ad" d="M976.2 393.7 C978.5 391.2 983.8 389.6 987.2 388.2 C990.7 386.8 993.9 384.5 996.9 385.4 C999.9 386.4 1003.8 390.7 1005.2 393.7 C1006.6 396.7 1006.8 400.6 1005.2 403.4 C1003.6 406.2 999 409.4 995.5 410.3 C992.1 411.2 988.2 410.1 984.5 408.9 C980.8 407.8 974.8 405.9 973.4 403.4 C972 400.9 973.9 396.3 976.2 393.7Z"/>
<path fill="#0054ff" d="M869.8 297 C868.8 293.8 872.8 291 876.7 288.7 C880.6 286.4 886.8 284.3 893.3 283.2 C899.7 282 908 281.9 915.4 281.8 C922.7 281.7 930.1 281.5 937.5 282.6 C944.8 283.8 952.7 285.8 959.6 288.7 C966.5 291.6 973.9 295.1 978.9 299.8 C984 304.4 988.6 310.8 990 316.3 C991.4 321.9 989.5 327.9 987.2 332.9 C984.9 338 980.8 342.8 976.2 346.7 C971.6 350.7 966 354.6 959.6 356.4 C953.1 358.3 943.9 358.5 937.5 357.8 C931 357.1 925.5 355.5 920.9 352.3 C916.3 349 914 343.5 909.8 338.4 C905.7 333.4 900.6 326.9 896 321.9 C891.4 316.8 886.6 312.2 882.2 308 C877.8 303.9 870.7 300.2 869.8 297Z"/>
<path fill="#0054ff" d="M933.3 526.2 C935.9 524 944 524 948.8 524.3 C953.7 524.6 960.1 526.2 962.4 528.2 C964.7 530.1 964.7 534 962.4 535.9 C960.1 537.9 953.7 539.5 948.8 539.8 C944 540.1 935.9 540.1 933.3 537.9 C930.7 535.6 930.7 528.5 933.3 526.2Z"/>
<path fill="#00a8ff" d="M78.5 150 C86.2 150.1 111.7 150.1 124.6 150.3 C137.4 150.6 145.3 151 155.6 151.4 C166 151.8 176.3 152.1 186.7 152.5 C197 152.9 207.4 153.3 217.8 153.7 C228.1 154.2 238.8 154.8 248.8 155.3 C258.8 155.8 264.4 156 278 156.5 C291.6 157.1 314.5 157.6 330.3 158.4 C346.2 159.2 361.4 160.6 373 161.1 C384.6 161.6 392.4 161.2 400 161.5 C407.6 161.8 412.4 162.2 418.6 163 C424.8 163.8 432.1 164.6 437.3 166.2 C442.5 167.8 449.2 169.1 449.7 172.4 C450.2 175.8 443.5 182.7 440.4 186.3 C437.3 189.9 432 190.7 431 194.1 C430 197.5 431.6 201.3 434.2 206.5 C436.8 211.7 442 220 446.6 225.2 C451.2 230.4 455.4 232.9 462.1 237.6 C468.8 242.2 479.2 249 487 253.1 C494.8 257.2 502.5 259.8 508.7 262.4 C514.9 265 520.1 266 524.2 268.6 C528.3 271.2 530.9 274.4 533.5 278 C536.1 281.6 537.9 286.7 539.8 290.4 C541.7 294.1 543.6 296.8 544.7 300 C545.8 303.2 544.5 306 546.3 309.3 C548.1 312.7 550.9 316.8 555.6 320.2 C560.2 323.6 567 326.7 574.2 329.5 C581.5 332.3 590.8 334.4 599.1 337.3 C607.3 340.1 616.7 343 623.9 346.6 C631.2 350.2 636.9 354.3 642.5 359 C648.2 363.7 653.9 369.4 658.1 374.5 C662.2 379.7 665.3 384.9 667.4 390.1 C669.5 395.2 670.2 400.4 670.5 405.6 C670.8 410.8 670.5 415.9 668.9 421.1 C667.4 426.3 664.5 432.2 661.2 436.6 C657.8 441 653.4 443.9 648.8 447.5 C644.1 451.1 639 452.1 633.2 458.4 C627.4 464.6 618.7 478.1 614 485 C609.3 491.9 608.2 495 605 500 C601.8 505 598 509.2 595 515 C592 520.8 589.5 528.3 587 535 C584.5 541.7 582.6 547.2 580 555 C577.4 562.8 575 575.3 571.6 581.7 C568.3 588.1 565.2 589.8 560 593.3 C554.8 596.9 547.7 600.5 540.6 603.1 C533.5 605.6 525.1 607.6 517.3 608.9 C509.5 610.2 498.6 610.5 494 610.8 C489.4 611.1 492.2 611.8 489.5 610.8 C486.8 609.8 481.7 606.7 477.8 605 C474 603.2 471.4 601.6 466.2 600.3 C461 599 453.3 597.7 446.8 597.2 C440.3 596.7 433.8 596.7 427.4 597.2 C420.9 597.7 413.1 598.7 408 600.3 C402.8 602 399.6 603.9 396.3 606.9 C393.1 610 391.8 615 388.6 618.6 C385.3 622.1 382.1 625.4 376.9 628.3 C371.7 631.2 364.6 634 357.5 636 C350.4 638.1 343.3 639.9 334.2 640.7 C325.2 641.5 313.5 641.2 303.2 640.7 C292.8 640.3 283.7 639.1 272.1 638 C260.5 636.9 246.2 635.7 233.3 634.1 C220.3 632.5 207.4 630.2 194.5 628.3 C181.5 626.3 168.6 624.4 155.6 622.5 C142.7 620.5 129.8 618.3 116.8 616.6 C103.9 615 84.5 613.4 78 612.8 L78.5 612.8 L78.5 150Z"/>
<path fill="#00a8ff" d="M1409.5 228 C1403.9 228.5 1394.4 230 1375.8 231 C1357.3 231.9 1324.1 233.3 1298.2 233.7 C1272.3 234.2 1243.2 233.2 1220.6 233.7 C1197.9 234.2 1178.5 234.4 1162.3 236.8 C1146.2 239.3 1134.5 243.9 1123.5 248.5 C1112.5 253 1102.2 258.8 1096.3 264 C1090.5 269.2 1089.2 274.3 1088.6 279.5 C1087.9 284.7 1089.9 290.8 1092.5 295 C1095 299.2 1098.9 302.5 1104.1 304.7 C1109.3 307 1118.7 306.4 1123.5 308.6 C1128.4 310.9 1132.6 314.1 1133.2 318.3 C1133.9 322.5 1129 327.4 1127.4 333.9 C1125.8 340.3 1124.8 349 1123.5 357.2 C1122.2 365.3 1121.2 374.5 1119.6 382.6 C1118 390.7 1115.4 398.1 1113.8 405.9 C1112.2 413.6 1110.6 422.1 1109.9 429.2 C1109.3 436.3 1109 442.1 1109.9 448.6 C1110.9 455 1112.8 462.2 1115.7 468 C1118.7 473.8 1122.2 478.3 1127.4 483.5 C1132.6 488.7 1139 493.9 1146.8 499 C1154.6 504.2 1165.6 509.4 1174 514.6 C1182.4 519.7 1189.5 524.9 1197.3 530.1 C1205 535.3 1212.8 541.2 1220.6 545.6 C1228.3 550 1234.1 551.1 1243.9 556.5 C1253.6 561.9 1266.5 573.3 1278.8 577.8 C1291.1 582.3 1304.7 581.7 1317.6 583.6 C1330.5 585.6 1343.5 587.2 1356.4 589.5 C1369.4 591.7 1386.3 595.3 1395.2 597.2 C1404.2 599.2 1407.5 600.5 1410 601.1 L1409.5 601 L1409.5 228Z"/>
<path fill="#00a8ff" d="M1409.5 149.5 C1403.9 150.1 1386.6 151.7 1375.8 153.4 C1365.1 155 1351.3 157.6 1344.8 159.2 C1338.3 160.8 1336.4 161.1 1337 163.1 C1337.7 165 1342.2 168.2 1348.7 170.8 C1355.1 173.4 1365.7 176.1 1375.8 178.6 C1386 181.1 1403.9 184.8 1409.5 186 L1409.5 149.5Z"/>
<path fill="#0054ff" d="M78.5 197.2 C81 198 88.4 200.1 93.5 201.9 C98.6 203.7 104.4 206.3 109.1 208.1 C113.7 209.9 117.9 210.9 121.5 212.7 C125.1 214.6 127.9 217.1 130.8 219 C133.6 220.8 138 221.5 138.6 223.6 C139.1 225.7 136.2 229 133.9 231.4 C131.6 233.7 128.7 236.3 124.6 237.6 C120.4 238.9 114.2 238.8 109.1 239.1 C103.9 239.5 98.6 239.8 93.5 239.9 C88.4 240 81 239.9 78.5 239.9 L78.5 197.2Z"/>
<path fill="#16ffe1" d="M78.5 280.7 C84.9 280.8 104 280.4 116.8 281.5 C129.7 282.6 142.7 285 155.6 287.3 C168.6 289.5 181.5 292.5 194.5 295 C207.4 297.6 220.3 300.2 233.3 302.8 C246.2 305.4 259.2 308 272.1 310.6 C285 313.2 298 315.7 310.9 318.3 C323.9 320.9 336.8 324.2 349.7 326.1 C362.7 328 375.6 328.8 388.6 330 C401.5 331.1 417.1 331.9 427.4 333.1 C437.6 334.3 443.6 336.3 450 337.3 C456.4 338.2 457.8 337.3 465.5 338.8 C473.3 340.4 486.2 343 496.6 346.6 C506.9 350.2 518.3 355.9 527.6 360.6 C537 365.2 545.2 370.7 552.5 374.5 C559.7 378.4 567 380.7 571.1 383.9 C575.3 387 576 389 577.3 393.2 C578.6 397.3 579.1 403 578.9 408.7 C578.6 414.4 577.1 421.1 575.8 427.3 C574.5 433.5 572.9 439.8 571.1 446 C569.3 452.2 567 458.9 564.9 464.6 C562.8 470.3 560.5 475.5 558.7 480.1 C556.9 484.8 556.4 485.5 554 492.5 C551.7 499.6 546.8 514.6 544.5 522.3 C542.2 530 543.4 534.9 540 539 C536.6 543.1 530.2 544.2 524.4 546.8 C518.6 549.4 512.1 551.9 505 554.5 C497.9 557.1 490.8 559.7 481.7 562.3 C472.6 564.9 461 568.1 450.7 570.1 C440.3 572 430 573 419.6 573.9 C409.3 574.9 398.9 575.6 388.6 575.9 C378.2 576.2 367.9 576.5 357.5 575.9 C347.2 575.2 336.8 573.6 326.4 572 C316.1 570.4 305.7 567.7 295.4 566.2 C285 564.7 274.7 562.7 264.3 563.1 C254 563.5 239 566.9 233.3 568.6 C227.6 570.3 230.8 571.5 230.2 573.3 C229.5 575.1 229.9 576.1 229.4 579.5 C228.9 582.9 230 590.1 227.1 593.5 C224.1 596.8 216.7 598.9 211.5 599.7 C206.4 600.5 200.2 599.2 196 598.1 C191.9 597.1 188.6 595.5 186.7 593.5 C184.8 591.4 184.6 588 184.4 585.7 C184.1 583.4 184 581.6 185.1 579.5 C186.3 577.4 190.1 575.9 191.4 573.3 C192.6 570.7 193.7 566.3 192.9 564 C192.1 561.6 190.3 561 186.7 559.3 C183.1 557.6 178.9 555.4 171.2 553.9 C163.4 552.3 150.5 551.2 140.1 550 C129.8 548.8 119.4 548.1 109.1 546.9 C98.7 545.7 83.2 543.7 78 543 L78.5 543 L78.5 280.7Z"/>
<path fill="#16ffe1" d="M1409.5 264 C1397.4 264.1 1362 264.4 1337 264.8 C1312 265.1 1277.5 265.1 1259.4 265.9 C1241.3 266.8 1235.1 267.5 1228.3 269.8 C1221.5 272.1 1220.6 275.3 1218.6 279.5 C1216.7 283.7 1217.6 289.9 1216.7 295 C1215.7 300.2 1214.7 305.4 1212.8 310.6 C1210.9 315.7 1208.9 319.6 1205 326.1 C1201.1 332.6 1196.6 342.6 1189.5 349.4 C1182.4 356.2 1168.2 360.9 1162.3 367.1 C1156.5 373.2 1156.8 380 1154.6 386.5 C1152.3 392.9 1150 399.4 1148.7 405.9 C1147.4 412.3 1146.5 418.8 1146.8 425.3 C1147.1 431.8 1148.1 438.9 1150.7 444.7 C1153.3 450.5 1157.2 455 1162.3 460.2 C1167.5 465.4 1174 470.6 1181.7 475.8 C1189.5 480.9 1199.2 486.8 1208.9 491.3 C1218.6 495.8 1234.6 499.8 1240 502.9 C1245.3 506 1238.3 507.6 1241.1 509.8 C1243.8 512 1251.4 514 1256.6 516 C1261.8 518.1 1266.9 520.2 1272.1 522.2 C1277.3 524.3 1282.5 526.1 1287.6 528.4 C1292.8 530.8 1298 533.6 1303.2 536.2 C1308.3 538.8 1313.5 541.9 1318.7 544 C1323.9 546 1329 547.1 1334.2 548.6 C1339.4 550.2 1344.6 552.3 1349.8 553.3 C1354.9 554.3 1360.1 554.8 1365.3 554.8 C1370.5 554.8 1375.6 554.3 1380.8 553.3 C1386 552.3 1391.8 549.9 1396.3 548.6 C1400.9 547.3 1405.8 546.1 1408 545.5 C1410.2 545 1409.2 545.5 1409.5 545.5 L1409.5 264Z"/>
<path fill="#5aff9d" d="M78.5 315.5 C81 315.3 87.1 314.4 93.5 314.3 C99.9 314.2 109.1 313.8 116.8 314.8 C124.6 315.7 132.3 317.9 140.1 320.2 C147.9 322.5 155.6 326.5 163.4 328.7 C171.2 330.9 178.9 332.3 186.7 333.4 C194.5 334.4 202.2 334 210 334.9 C217.8 335.8 225.5 337.1 233.3 338.8 C241 340.5 249.1 343 256.6 345 C264 347.1 262.5 350.2 278 351.2 C293.5 352.3 328.1 350.8 349.7 351.5 C371.4 352.2 389.2 353.6 408 355.4 C426.7 357.2 450.2 360.2 462.4 362.1 C474.6 364 474.3 364.7 481.1 366.8 C487.8 368.8 496.1 371.2 502.8 374.5 C509.5 377.9 516.5 382.3 521.4 387 C526.3 391.6 529.7 397.3 532.3 402.5 C534.9 407.7 536.2 412.8 537 418 C537.7 423.2 538 429 537 433.5 C535.9 438.1 533.8 439.4 530.4 445.2 C527 451 521.1 461.5 516.5 468.5 C511.9 475.5 505.6 481.8 502.5 487.2 C499.4 492.6 499 495.7 497.8 501.1 C496.6 506.5 497.1 513.6 495.5 519.8 C493.9 526 493.4 532.2 488.5 538.4 C483.6 544.6 476.4 553.2 466.2 557.3 C456 561.4 440.3 561.8 427.4 563.1 C414.4 564.4 401.5 565 388.6 565 C375.6 565 362.7 564.1 349.7 563.1 C336.8 562.1 322.9 561.4 310.9 559.2 C299 557 285.8 551.8 278 550 C270.2 548.2 271.8 549.4 264.3 548.4 C256.9 547.5 243.6 545.7 233.3 544.6 C222.9 543.4 212.6 542.5 202.2 541.5 C191.9 540.4 181.5 539.5 171.2 538.4 C160.8 537.2 150.5 535.9 140.1 534.5 C129.8 533 119.4 531.2 109.1 529.8 C98.7 528.4 83.2 526.6 78 525.9 L78.5 525.9 L78.5 315.5Z"/>
<path fill="#5aff9d" d="M1409.5 317.3 C1403.4 317.2 1381.7 316.2 1373 316.5 C1364.4 316.7 1362.7 317.4 1357.5 318.8 C1352.3 320.2 1346.9 322.4 1342 325 C1337.1 327.6 1331.9 331 1328 334.3 C1324.1 337.7 1321.8 342.1 1318.7 345.2 C1315.6 348.3 1313 350.5 1309.4 353 C1305.8 355.4 1301.1 360 1297 360 C1292.8 360 1288.7 355.4 1284.5 353 C1280.4 350.5 1276.3 347.4 1272.1 345.2 C1268 343 1263.6 340 1259.7 339.8 C1255.8 339.5 1252.4 341.7 1248.8 343.7 C1245.2 345.6 1241.3 348.3 1238 351.4 C1234.6 354.5 1231.7 358.2 1228.6 362.3 C1225.5 366.4 1221.9 371.9 1219.3 376.3 C1216.7 380.7 1215.8 382.6 1213.1 388.7 C1210.4 394.8 1207.1 406.5 1203.2 413.1 C1199.3 419.7 1192.7 424 1190 428 C1187.3 432 1187.2 433.7 1186.9 437 C1186.6 440.3 1186.1 444.2 1188 448 C1189.9 451.8 1192.2 455 1198.5 459.6 C1204.8 464.2 1218.4 471.9 1225.5 475.7 C1232.6 479.4 1235.9 479.8 1241.1 481.9 C1246.2 483.9 1251.4 486.3 1256.6 488.1 C1261.8 489.9 1266.9 491.3 1272.1 492.7 C1277.3 494.2 1282.5 495.3 1287.6 496.6 C1292.8 497.9 1298 499.3 1303.2 500.5 C1308.3 501.7 1313.5 502.4 1318.7 503.6 C1323.9 504.8 1329 506.2 1334.2 507.5 C1339.4 508.8 1344.6 510.2 1349.8 511.4 C1354.9 512.5 1360.1 513.4 1365.3 514.5 C1370.5 515.5 1375.6 516.7 1380.8 517.6 C1386 518.5 1391.8 519.3 1396.3 519.9 C1400.9 520.6 1405.8 521.2 1408 521.5 C1410.2 521.7 1409.2 521.5 1409.5 521.5 L1409.5 317.3Z"/>
<path fill="#9dff5a" d="M78.5 346.6 C80 346.1 83.5 344.4 87.3 343.5 C91.1 342.6 96.4 341.6 101.3 341.1 C106.2 340.7 111.6 340.6 116.8 340.7 C122 340.8 127.2 341.2 132.3 341.9 C137.5 342.7 141.4 343.7 147.9 345 C154.3 346.3 163.4 348.3 171.2 349.7 C178.9 351.1 186.7 352.5 194.5 353.6 C202.2 354.6 210 354.2 217.8 355.9 C225.5 357.6 234.6 361.3 241 363.7 C247.5 366 250.4 368.2 256.6 369.9 C262.7 371.6 272.2 374.2 278 373.8 C283.8 373.3 282.8 367.5 291.5 367.1 C300.2 366.6 317.4 369.6 330.3 370.9 C343.3 372.2 356.2 374.2 369.1 374.8 C382.1 375.5 395 374.2 408 374.8 C420.9 375.5 436.7 377.2 446.8 378.7 C456.9 380.2 462.4 381.4 468.6 383.9 C474.9 386.3 479.5 389.5 484.2 393.2 C488.8 396.8 493.2 400.9 496.6 405.6 C499.9 410.2 502.5 415.9 504.3 421.1 C506.2 426.3 508.1 432.2 507.5 436.6 C506.8 441.1 503.4 443.1 500.2 447.6 C497 452.1 492.8 458.5 488.5 463.9 C484.2 469.3 477.6 474.8 474.5 480.2 C471.4 485.6 470.7 490.7 469.9 496.5 C469.1 502.3 471.4 508.9 469.9 515.1 C468.3 521.3 463.2 528.6 460.6 533.7 C458 538.8 460.1 542.7 454.6 545.6 C449 548.6 438.4 550.3 427.4 551.5 C416.4 552.6 401.5 552.6 388.6 552.6 C375.6 552.6 362.7 552.3 349.7 551.5 C336.8 550.6 322.9 549.4 310.9 547.6 C299 545.8 285.8 542.1 278 540.7 C270.2 539.3 271.8 540 264.3 539.1 C256.9 538.2 243.6 536.5 233.3 535.2 C222.9 534 212.6 532.7 202.2 531.4 C191.9 530.1 181.5 528.8 171.2 527.5 C160.8 526.2 150.5 525.2 140.1 523.6 C129.8 522 119.4 520 109.1 518.2 C98.7 516.4 83.2 513.6 78 512.7 L78.5 512.7 L78.5 346.6Z"/>
<path fill="#9dff5a" d="M1409.5 358.4 C1406 359 1394.6 360.9 1388.6 362.3 C1382.5 363.7 1378.2 364.9 1373 367 C1367.9 369 1362.7 371.9 1357.5 374.7 C1352.3 377.6 1347.2 381.2 1342 384 C1336.8 386.9 1331.6 389.7 1326.5 391.8 C1321.3 393.9 1316.1 395.2 1310.9 396.5 C1305.8 397.8 1300.6 398.7 1295.4 399.6 C1290.2 400.5 1285.1 401.1 1279.9 401.9 C1274.7 402.7 1269.5 402.8 1264.3 404.2 C1259.2 405.6 1253.5 407.8 1248.8 410.4 C1244.2 413 1239.8 416.6 1236.4 419.8 C1233 422.9 1230.2 425.7 1228.6 429.1 C1227.1 432.4 1226.3 436.8 1227.1 439.9 C1227.9 443 1229.7 445.1 1233.3 447.7 C1236.9 450.3 1243.6 453 1248.8 455.5 C1254 457.9 1259.2 460.1 1264.3 462.5 C1269.5 464.8 1274.7 467 1279.9 469.4 C1285.1 471.9 1290.2 474.6 1295.4 477.2 C1300.6 479.8 1305.8 482.6 1310.9 485 C1316.1 487.3 1321.3 489.4 1326.5 491.2 C1331.6 493 1336.8 494.5 1342 495.8 C1347.2 497.1 1352.3 497.9 1357.5 498.9 C1362.7 500 1367.9 501 1373 502 C1378.2 503.1 1382.7 504.2 1388.6 505.2 C1394.4 506.1 1404.5 507.1 1408 507.5 C1411.5 507.9 1409.2 507.5 1409.5 507.5 L1409.5 358.4Z"/>
<path fill="#e4ff13" d="M78.5 380.7 C80 379.4 84 375.3 87.3 373 C90.6 370.7 94.6 368.6 98.2 366.8 C101.8 365 104.7 363.2 109.1 362.1 C113.5 361 119.4 360.4 124.6 360.2 C129.8 360.1 134.9 360.8 140.1 361.3 C145.3 361.9 149.2 362.9 155.6 363.7 C162.1 364.4 171.2 365.1 178.9 366 C186.7 366.9 194.5 367.7 202.2 369.1 C210 370.5 219 372.6 225.5 374.5 C232 376.5 235.9 378.7 241 380.7 C246.2 382.8 251.4 385.5 256.6 387 C261.7 388.4 268.5 388.8 272.1 389.3 C275.7 389.8 274.8 390.5 278 390.1 C281.2 389.6 284.7 387.1 291.5 386.5 C298.3 385.9 309 386.1 318.7 386.5 C328.4 386.8 338.1 387.8 349.7 388.4 C361.4 389.1 377.6 389.7 388.6 390.3 C399.6 391 405.5 391.8 415.7 392.3 C426 392.8 442.2 392.5 450 393.2 C457.8 393.8 458.3 394.2 462.4 396.3 C466.6 398.3 471.7 402 474.8 405.6 C478 409.2 479.8 413.9 481.1 418 C482.3 422.2 482.9 425.8 482.6 430.4 C482.3 435.1 482.8 440.9 479.5 446 C476.2 451.1 466.2 457.2 463 461 C459.8 464.8 462.6 464.9 460.6 468.5 C458.6 472.1 453.1 477.1 451.2 482.5 C449.2 487.9 449.7 494.9 448.9 501.1 C448.1 507.3 448.5 513.6 446.6 519.8 C444.7 526 441.2 533.8 437.3 538.4 C433.4 543 431.4 547.1 423.3 547.7 C415.2 548.3 400.8 542.9 388.6 541.7 C376.3 540.6 362.7 541.6 349.7 541 C336.8 540.3 322.9 539.5 310.9 537.9 C299 536.3 288.4 533 278 531.4 C267.6 529.8 258.8 529.6 248.8 528.3 C238.8 527 228.1 525.2 217.8 523.6 C207.4 522 197 520.5 186.7 518.9 C176.3 517.4 166 515.8 155.6 514.3 C145.3 512.7 133.6 511.2 124.6 509.6 C115.5 508.1 109.1 506.5 101.3 505 C93.5 503.4 81.9 501.1 78 500.3 L78.5 500.3 L78.5 380.7Z"/>
<path fill="#e4ff13" d="M1409.5 395.7 C1406 396.1 1394.6 397.1 1388.6 398 C1382.5 398.9 1378.2 399.8 1373 401.1 C1367.9 402.4 1362.7 404 1357.5 405.8 C1352.3 407.6 1347.2 410.2 1342 412 C1336.8 413.8 1331.6 415.1 1326.5 416.6 C1321.3 418.2 1316.1 419.5 1310.9 421.3 C1305.8 423.1 1299.8 425.7 1295.4 427.5 C1291 429.3 1287 430.1 1284.5 432.2 C1282.1 434.2 1280.7 437.3 1280.7 439.9 C1280.7 442.5 1282.1 445.1 1284.5 447.7 C1287 450.3 1291 452.9 1295.4 455.5 C1299.8 458.1 1305.8 460.6 1310.9 463.2 C1316.1 465.8 1321.3 468.7 1326.5 471 C1331.6 473.3 1336.8 475.1 1342 477.2 C1347.2 479.3 1352.3 481.6 1357.5 483.4 C1362.7 485.2 1367.9 486.7 1373 488.1 C1378.2 489.5 1382.7 490.8 1388.6 492 C1394.4 493.1 1404.5 494.5 1408 495.1 C1411.5 495.6 1409.2 495.1 1409.5 495.1 L1409.5 395.7Z"/>
<path fill="#ffbd00" d="M78.5 426.6 C81.3 426.5 91 426.9 95.1 425.8 C99.1 424.6 100.9 422.4 102.8 419.6 C104.8 416.7 105.7 412.3 106.7 408.7 C107.8 405.1 107.6 400.9 109.1 397.8 C110.5 394.7 112.7 392.4 115.3 390.1 C117.9 387.7 121.7 385.3 124.6 383.9 C127.4 382.4 127.2 381.8 132.3 381.5 C137.5 381.3 147.9 381.8 155.6 382.3 C163.4 382.8 171.2 383.7 178.9 384.6 C186.7 385.5 195.8 386.6 202.2 387.7 C208.7 388.9 213.1 389.7 217.8 391.6 C222.4 393.6 226.6 396.8 230.2 399.4 C233.8 402 236.6 405.1 239.5 407.1 C242.3 409.2 243.1 410.6 247.3 411.8 C251.4 413 259.2 414.4 264.3 414.1 C269.5 413.9 273.5 411.3 278 410.2 C282.5 409.2 284.7 408.9 291.5 407.8 C298.3 406.8 309 404.9 318.7 403.9 C328.4 403 338.1 402.4 349.7 402 C361.4 401.5 376.9 401.1 388.6 401.2 C400.2 401.3 410.6 402 419.6 402.8 C428.7 403.5 436.4 404.1 442.9 405.9 C449.4 407.7 454.9 410.4 458.4 413.6 C462 416.9 463.6 421.4 464.3 425.3 C464.9 429.2 463.6 432.4 462.3 436.9 C461 441.5 458.8 447.3 456.5 452.5 C454.2 457.6 451.6 462.8 448.7 468 C445.8 473.2 441.9 478.3 439 483.5 C436.1 488.7 433.8 493.9 431.3 499 C428.7 504.2 425.6 509.6 423.5 514.6 C421.4 519.6 422.5 525.4 418.6 529.1 C414.7 532.8 406.4 535.7 400 537 C393.6 538.3 387.1 537.7 380 537 C372.9 536.3 367.7 534.7 357.5 533 C347.3 531.3 331.9 529.1 318.7 527 C305.4 524.9 288.4 521.8 278 520.5 C267.6 519.2 264 519.8 256.6 518.9 C249.1 518 242.3 516.4 233.3 515.1 C224.2 513.8 212.6 512.6 202.2 511.2 C191.9 509.8 181.5 507.9 171.2 506.5 C160.8 505.1 149.2 504.1 140.1 502.6 C131.1 501.2 124.6 499.9 116.8 498 C109.1 496 100 493.2 93.5 491 C87.1 488.8 80.6 485.8 78 484.8 L78.5 484.8 L78.5 426.6Z"/>
<path fill="#ffbd00" d="M1409.5 423.6 C1405.5 423.2 1392.8 421.3 1385.5 421.3 C1378.1 421.3 1371.2 422.3 1365.3 423.6 C1359.3 424.9 1353.9 427.1 1349.8 429.1 C1345.6 431 1342.5 433.2 1340.4 435.3 C1338.4 437.3 1337.1 438.9 1337.3 441.5 C1337.6 444.1 1339.4 447.7 1342 450.8 C1344.6 453.9 1349 457.3 1352.9 460.1 C1356.7 463 1360.6 465.6 1365.3 467.9 C1369.9 470.2 1375.6 472.3 1380.8 474.1 C1386 475.9 1391.8 477.7 1396.3 478.8 C1400.9 479.8 1405.8 480.1 1408 480.3 C1410.2 480.6 1409.2 480.3 1409.5 480.3 L1409.5 423.6Z"/>
<path fill="#ff6f00" d="M278 449.1 C274.1 450.6 269.2 450.1 264.3 449.8 C259.5 449.6 255.3 448.3 248.8 447.5 C242.3 446.7 232.2 445.6 225.5 445.2 C218.8 444.8 214.9 443.5 208.4 445.2 C202 446.9 192.9 452.6 186.7 455.3 C180.5 458 177.4 459.3 171.2 461.5 C165 463.7 154.1 465.6 149.4 468.5 C144.8 471.3 142.2 476.1 143.2 478.6 C144.3 481 149.7 481.4 155.6 483.2 C161.6 485 171.2 487.5 178.9 489.4 C186.7 491.4 194.5 493.1 202.2 494.9 C210 496.7 217.8 498.6 225.5 500.3 C233.3 502 242.3 503.5 248.8 505 C255.3 506.4 259.5 507.8 264.3 508.9 C269.2 509.9 270.2 510.4 278 511.2 C285.8 512 300.3 512.9 310.9 513.8 C321.6 514.7 332.9 516.4 342 516.5 C351 516.6 359.4 516.2 365.3 514.6 C371.1 513 375.6 510 376.9 506.8 C378.2 503.6 376.3 499 373 495.2 C369.8 491.3 361.4 487.7 357.5 483.5 C353.6 479.3 350.4 473.5 349.7 469.9 C349.1 466.4 349.7 463.8 353.6 462.2 C357.5 460.5 365.3 460.9 373 460.2 C380.8 459.6 391.8 459.9 400.2 458.3 C408.6 456.7 417.4 453.4 423.5 450.5 C429.6 447.6 434.2 444.4 437.1 440.8 C440 437.3 441.9 432.7 441 429.2 C440 425.6 436.1 421.7 431.3 419.5 C426.4 417.2 420.3 416 411.9 415.6 C403.4 415.1 391.1 416.4 380.8 416.7 C370.4 417.1 360.1 417.1 349.7 417.5 C339.4 418 327.1 417.5 318.7 419.5 C310.3 421.4 304.4 425.6 299.3 429.2 C294.1 432.7 291.2 437.5 287.6 440.8 C284.1 444.1 281.9 447.6 278 449.1Z"/>
<use href="#coast" shape-rendering="auto"/>
</g>
<rect x="78.5" y="132.5" width="1331.0" height="656.0" fill="none" stroke="#000" stroke-width="3.33"/>
<rect x="78.5" y="831.5" width="111.5" height="66.0" fill="#0000ad"/>
<rect x="189.4" y="831.5" width="111.5" height="66.0" fill="#0000ff"/>
<rect x="300.3" y="831.5" width="111.5" height="66.0" fill="#0054ff"/>
<rect x="411.2" y="831.5" width="111.5" height="66.0" fill="#00a8ff"/>
<rect x="522.2" y="831.5" width="111.5" height="66.0" fill="#16ffe1"/>
<rect x="633.1" y="831.5" width="111.5" height="66.0" fill="#5aff9d"/>
<rect x="744" y="831.5" width="111.5" height="66.0" fill="#9dff5a"/>
<rect x="854.9" y="831.5" width="111.5" height="66.0" fill="#e4ff13"/>
<rect x="965.8" y="831.5" width="111.5" height="66.0" fill="#ffbd00"/>
<rect x="1076.8" y="831.5" width="111.5" height="66.0" fill="#ff6f00"/>
<rect x="1187.7" y="831.5" width="111.5" height="66.0" fill="#ff1e00"/>
<rect x="1298.6" y="831.5" width="110.9" height="66.0" fill="#ad0000"/>
<rect x="78.5" y="831.5" width="1331.0" height="66.0" fill="none" stroke="#000" stroke-width="3.33"/>
<line x1="78.5" y1="897.5" x2="78.5" y2="912.1" stroke="#000" stroke-width="3.33"/>
<text x="78.5" y="960" font-size="45" text-anchor="middle">0</text>
<line x1="300.3" y1="897.5" x2="300.3" y2="912.1" stroke="#000" stroke-width="3.33"/>
<text x="300.3" y="960" font-size="45" text-anchor="middle">5</text>
<line x1="522.2" y1="897.5" x2="522.2" y2="912.1" stroke="#000" stroke-width="3.33"/>
<text x="522.2" y="960" font-size="45" text-anchor="middle">10</text>
<line x1="744" y1="897.5" x2="744" y2="912.1" stroke="#000" stroke-width="3.33"/>
<text x="744.0" y="960" font-size="45" text-anchor="middle">15</text>
<line x1="965.8" y1="897.5" x2="965.8" y2="912.1" stroke="#000" stroke-width="3.33"/>
<text x="965.8" y="960" font-size="45" text-anchor="middle">20</text>
<line x1="1187.7" y1="897.5" x2="1187.7" y2="912.1" stroke="#000" stroke-width="3.33"/>
<text x="1187.7" y="960" font-size="45" text-anchor="middle">25</text>
<line x1="1409.5" y1="897.5" x2="1409.5" y2="912.1" stroke="#000" stroke-width="3.33"/>
<text x="1409.5" y="960" font-size="45" text-anchor="middle">30</text>
</g>
<g transform="translate(0,985)">
<text x="131" y="109" font-size="53" textLength="1226" lengthAdjust="spacingAndGlyphs">Ionosphere  (h=450.0 km), 2009-07-25 00:00 UT</text>
<g clip-path="url(#mc)" shape-rendering="crispEdges">
<path fill="#0054ff" d="M0 0H1500V1000H0Z"/>
<path fill="#0000ff" d="M78.5 704 C84.9 704.2 104 704.8 116.8 705.1 C129.7 705.4 142.7 705.6 155.6 705.9 C168.5 706.2 181.6 706.6 194.5 706.7 C207.4 706.8 221.7 706.8 233.3 706.7 C244.9 706.6 255.2 706.7 264.3 705.9 C273.4 705.1 282.1 703.9 287.6 702 C293.1 700.1 295.7 697.5 297.3 694.3 C298.9 691.1 298.6 686.5 297.3 682.6 C296 678.7 291.9 675.5 289.6 671 C287.3 666.5 281.4 659.4 283.7 655.5 C286 651.6 295.4 650.3 303.2 647.7 C311 645.1 323.2 642.5 330.3 639.9 C337.4 637.3 343.3 635.4 345.9 632.2 C348.5 629 347.8 624.4 345.9 620.5 C343.9 616.6 340 612.4 334.2 608.9 C328.4 605.4 319.9 602.1 310.9 599.2 C301.8 596.3 287.7 594.3 279.9 591.4 C272.1 588.5 267.2 584.6 264.3 581.7 C261.4 578.8 261.1 576.2 262.4 573.9 C263.7 571.6 264 569.1 272.1 568.1 C280.2 567.1 298 567.8 310.9 568.1 C323.8 568.4 338.4 570.3 349.7 570.1 C361 569.9 370.7 567.9 378.6 566.9 C386.5 565.9 391.1 565.2 397.3 564.1 C403.5 563 409.7 561.9 415.9 560.3 C422.1 558.7 428.3 556.6 434.5 554.7 C440.7 552.9 447.9 551.4 453.2 549.2 C458.5 547 462.5 545.4 466.2 541.7 C469.9 538 473.3 531.4 475.5 526.8 C477.7 522.1 478.4 518.5 479.2 513.8 C480 509.1 479.6 503.5 480.2 498.8 C480.8 494.1 480.7 490.1 483 485.8 C485.3 481.5 489.2 477.8 494.2 472.8 C499.2 467.8 507.2 461.6 512.8 456 C518.4 450.4 524 444.2 527.7 439.2 C531.4 434.2 532.9 430.2 535.1 426.2 C537.3 422.2 539.6 417.9 540.7 415 C541.8 412.1 541.2 412.2 541.9 408.5 C542.6 404.8 544.7 398.7 545 393 C545.3 387.3 544.5 380.6 543.5 374.4 C542.5 368.2 539.3 361.9 538.8 355.7 C538.3 349.5 538.3 342.8 540.4 337.1 C542.5 331.4 546.8 326.8 551.2 321.6 C555.6 316.4 563.3 311.5 566.8 306.1 C570.3 300.7 571.8 294.2 572 289 C572.2 283.8 571.2 279.3 568 274.9 C564.8 270.5 558.7 266.5 552.5 262.4 C546.3 258.2 537.4 253.6 530.7 250 C524 246.4 517 243.8 512.1 240.7 C507.2 237.6 501.2 235 501.2 231.4 C501.2 227.8 508.2 222.6 512.1 219 C516 215.4 518.3 211.9 524.5 209.6 C530.7 207.3 538.5 206.4 549.4 205 C560.3 203.6 575.3 202.5 589.8 200.9 C604.3 199.3 623.4 197.6 636.3 195.7 C649.2 193.8 657 191.8 667.4 189.5 C677.8 187.2 688 184.3 698.4 181.7 C708.8 179.1 719.1 176.5 729.5 173.9 C739.9 171.3 750.2 168.5 760.6 166.2 C771 163.9 781.2 161.7 791.6 160 C802 158.3 813 157 822.7 156.2 C832.4 155.4 836.9 155.5 850 155.3 C863.1 155.2 886.5 155 901.6 155.3 C916.7 155.6 927.5 156.5 940.4 157.2 C953.3 157.8 964.9 156.9 979.2 159.2 C993.6 161.5 1012.1 167.6 1026.5 170.8 C1040.8 174 1053.7 175.7 1065.3 178.6 C1076.9 181.5 1087.2 185.1 1096.3 188.3 C1105.3 191.5 1114.4 194.4 1119.6 198 C1124.8 201.6 1127.4 205.4 1127.4 209.6 C1127.4 213.8 1122.8 218.7 1119.6 223.2 C1116.4 227.7 1110.6 232.6 1108 236.8 C1105.4 241 1103.4 244.6 1104.1 248.5 C1104.8 252.4 1106.7 256.9 1111.9 260.1 C1117.1 263.3 1126.8 265.6 1135.2 267.9 C1143.6 270.2 1153.2 271.4 1162.3 273.7 C1171.3 276 1183 277.9 1189.5 281.5 C1196 285.1 1199.8 290.8 1201.1 295 C1202.4 299.2 1200.5 303.1 1197.3 306.7 C1194.1 310.3 1188.2 313.8 1181.7 316.4 C1175.2 319 1166.2 319.9 1158.4 322.2 C1150.7 324.5 1141 326.8 1135.2 330 C1129.4 333.2 1125.8 337.1 1123.5 341.6 C1121.2 346.1 1120.9 351.7 1121.6 357.2 C1122.2 362.7 1125.1 368.6 1127.4 374.8 C1129.7 381 1132.6 387.7 1135.2 394.2 C1137.8 400.7 1140.3 407.1 1142.9 413.6 C1145.5 420.1 1148.8 426.6 1150.7 433.1 C1152.7 439.6 1152 446.7 1154.6 452.5 C1157.2 458.3 1162.3 462.8 1166.2 468 C1170.1 473.2 1175.3 478.3 1177.9 483.5 C1180.5 488.7 1179.1 493.8 1181.7 499 C1184.3 504.2 1188.2 510.1 1193.4 514.6 C1198.6 519.1 1207 522.3 1212.8 526.2 C1218.6 530.1 1223.1 533.2 1228.3 537.9 C1233.5 542.6 1238.7 548.5 1243.9 554.5 C1249.1 560.5 1253.6 567.4 1259.4 573.9 C1265.2 580.4 1271.7 587.5 1278.8 593.3 C1285.9 599.1 1295 604.4 1302.1 608.9 C1309.2 613.4 1316.3 616 1321.5 620.5 C1326.7 625 1330.5 630.2 1333.1 636 C1335.7 641.8 1335 648.4 1337 655.5 C1339 662.6 1341.6 672.3 1344.8 678.8 C1348 685.3 1351.2 690.4 1356.4 694.3 C1361.6 698.2 1367 700.4 1375.8 702 C1384.6 703.6 1403.9 703.7 1409.5 704 L1439.5 704 L1439.5 810 L48.5 810 L48.5 704 L78.5 704Z"/>
<path fill="#00a8ff" d="M177 591.4 C177.1 589.3 186.5 588.7 190.6 588.7 C194.7 588.7 201.5 589.3 201.4 591.4 C201.3 593.5 193.9 601.1 189.8 601.1 C185.7 601.1 176.9 593.5 177 591.4Z"/>
<path fill="#0000ad" d="M78.5 752.5 C81 751.5 87.1 748.6 93.5 746.7 C99.9 744.8 106.5 742.5 116.8 740.9 C127.1 739.3 142.7 738 155.6 737 C168.5 736 181.6 735.6 194.5 735 C207.4 734.4 220.4 733.9 233.3 733.1 C246.2 732.3 259.2 731 272.1 730 C285 729 298 728.4 310.9 727.3 C323.8 726.2 336.8 725 349.7 723.4 C362.6 721.8 378.2 719.9 388.6 717.6 C399 715.3 406.7 712.4 411.9 709.8 C417.1 707.2 418 705.2 419.6 702 C421.2 698.8 421 695.2 421.6 690.4 C422.2 685.5 421.2 678.1 423.5 672.9 C425.8 667.7 431.2 663.5 435.1 659.3 C439 655.1 444.5 651.6 446.8 647.7 C449.1 643.8 450.6 639.9 448.7 636 C446.8 632.1 441.2 628.3 435.1 624.4 C429 620.5 418.7 616.7 411.9 612.8 C405.1 608.9 397.6 604.9 394.4 601.1 C391.2 597.3 390.6 592.9 392.6 590.1 C394.6 587.4 399.6 586.8 406.6 584.6 C413.6 582.4 426.1 579.6 434.5 577.1 C442.9 574.6 449.4 572.2 456.9 569.7 C464.3 567.2 473 565 479.2 562.2 C485.4 559.4 489.8 556.3 494.2 552.9 C498.6 549.5 502.2 546.1 505.3 541.7 C508.4 537.4 510.9 531.8 512.8 526.8 C514.7 521.8 515 516.9 516.5 511.9 C518 506.9 519.6 501.7 522.1 497 C524.6 492.3 527.4 488.9 531.4 483.9 C535.4 478.9 541.3 473.1 546.3 467.2 C551.3 461.3 556.9 454.7 561.2 448.5 C565.6 442.3 569.3 435.5 572.4 429.9 C575.5 424.3 577.4 419 579.9 415 C582.4 411 582.1 410 587.2 405.9 C592.3 401.8 602.7 395.5 610.5 390.3 C618.3 385.1 627.3 379.7 633.8 374.8 C640.3 369.9 644.8 364.3 649.3 361 C653.8 357.7 654.4 356.5 660.9 355.2 C667.4 353.9 679 354.3 688.1 353.3 C697.2 352.3 708.2 351.3 715.3 349.4 C722.4 347.4 727.2 345.5 730.8 341.6 C734.3 337.7 736 331.3 736.6 326.1 C737.2 320.9 737 315.8 734.7 310.6 C732.4 305.4 728.2 299.5 723 295 C717.8 290.5 710.1 287.9 703.6 283.4 C697.1 278.9 688.4 273.1 684.2 267.9 C680 262.7 677.8 256.5 678.4 252.3 C679 248.1 680 245.8 688.1 242.6 C696.2 239.4 714 236.1 726.9 232.9 C739.8 229.7 752.8 225.8 765.7 223.2 C778.7 220.6 791.7 218.4 804.6 217.4 C817.5 216.4 830.5 216.8 843.4 217.4 C856.3 218.1 869.3 219.7 882.2 221.3 C895.1 222.9 908.1 224.8 921 227.1 C933.9 229.4 947.6 232.3 959.8 234.9 C972 237.5 984.8 239.7 994 242.6 C1003.2 245.5 1007.4 247.4 1014.8 252.3 C1022.1 257.2 1031.6 264.7 1038.1 271.8 C1044.6 278.9 1049.7 287.2 1053.6 295 C1057.5 302.8 1058.8 310.5 1061.4 318.3 C1064 326.1 1066.4 334.3 1069.2 341.6 C1072 348.9 1073.7 355.6 1078 362 C1082.3 368.4 1090.7 375 1095 380 C1099.3 385 1101.3 386.4 1104.1 392 C1106.9 397.6 1110.3 404.8 1111.9 413.6 C1113.5 422.4 1113.2 435 1113.8 444.7 C1114.4 454.4 1114.7 462.8 1115.7 471.9 C1116.7 480.9 1118.3 490.6 1119.6 499 C1120.9 507.4 1120.9 514.5 1123.5 522.3 C1126.1 530.1 1130.7 538.5 1135.2 545.6 C1139.7 552.7 1146.2 560.3 1150.7 565 C1155.2 569.7 1159.1 569.2 1162.3 573.9 C1165.5 578.6 1169.1 586.2 1170.1 593.3 C1171.1 600.4 1169.2 608.8 1168.2 616.6 C1167.2 624.4 1165 632.8 1164.3 639.9 C1163.6 647 1163.3 653.5 1164.3 659.3 C1165.3 665.1 1165.9 670 1170.1 674.9 C1174.3 679.8 1182.4 684.6 1189.5 688.5 C1196.6 692.4 1207 694.7 1212.8 698.2 C1218.6 701.8 1221.2 705.3 1224.4 709.8 C1227.6 714.3 1229.6 719.5 1232.2 725.3 C1234.8 731.1 1236.1 738.9 1240 744.7 C1243.9 750.5 1249 756.7 1255.5 760.3 C1262 763.9 1268.5 764.8 1278.8 766.1 C1289.1 767.4 1304.7 767.7 1317.6 768 C1330.5 768.3 1343.5 769.3 1356.4 768 C1369.3 766.7 1386.4 762.2 1395.2 760.3 C1404 758.4 1407.1 757 1409.5 756.4 L1439.5 756 L1439.5 810 L48.5 810 L48.5 752.5 L78.5 752.5Z"/>
<path fill="#0000ff" d="M934.6 326.1 C936.2 323.5 940.7 321.9 944.3 322.2 C947.9 322.5 954 325.1 956 328 C958 330.9 958 337.1 956 339.7 C954 342.3 947.9 343.9 944.3 343.6 C940.7 343.3 936.2 340.6 934.6 337.7 C933 334.8 933 328.7 934.6 326.1Z"/>
<path fill="#00a8ff" d="M78.5 257 C84.9 257 104 257.3 116.8 257 C129.7 256.7 144.6 256.8 155.6 255.4 C166.6 254 176.3 252.2 182.8 248.5 C189.3 244.8 192.2 239.4 194.5 232.9 C196.8 226.4 195.8 216.1 196.4 209.6 C197 203.1 196 198.3 198.3 194.1 C200.6 189.9 202.9 187.3 210 184.4 C217.1 181.5 230.7 178.9 241 176.6 C251.3 174.3 260.5 172.5 272.1 170.8 C283.8 169.1 298 167.2 310.9 166.2 C323.8 165.2 338 165 349.7 165 C361.4 165 372.4 165.2 380.8 166.2 C389.2 167.2 395.7 166.8 400.2 170.8 C404.7 174.8 407 183.7 408 190.2 C409 196.7 406.6 203.8 406 209.6 C405.4 215.4 403.1 219.7 404.1 225.2 C405.1 230.7 408 237.4 411.9 242.6 C415.8 247.8 425.1 252.3 427.4 256.2 C429.6 260.1 430.6 263.8 425.4 265.9 C420.2 268 408.9 268.9 396.3 268.6 C383.7 268.3 363.9 265.9 349.7 264 C335.5 262.1 322.5 258.8 310.9 257 C299.3 255.2 287.7 253 279.9 253.5 C272.1 254 267.2 256.5 264.3 260.1 C261.4 263.7 261.7 270.4 262.4 275 C263.1 279.6 266.5 282.2 268.6 287.4 C270.7 292.6 273.2 299.4 274.8 306.1 C276.4 312.8 275.9 321.9 278 327.8 C280.1 333.8 282.7 338.4 287.3 341.8 C291.9 345.2 299.2 347.1 305.9 348 C312.6 348.9 318.8 347.3 327.6 347 C336.4 346.7 348.3 346.2 358.7 346.4 C369.1 346.6 379.4 347.2 389.8 348 C400.2 348.8 410.5 349.8 420.8 351.1 C431.1 352.4 444.1 354.4 451.9 355.7 C459.7 357 461.7 357.3 467.4 358.9 C473.1 360.5 479.8 362 486 365.1 C492.2 368.2 500 372.9 504.7 377.5 C509.4 382.1 512.5 387.8 514 393 C515.5 398.2 515 403.8 514 408.5 C513 413.2 510.4 417.4 507.8 421 C505.2 424.6 502 426.7 498.4 430.3 C494.8 433.9 490.1 438.6 486 442.7 C481.9 446.8 477.2 451 473.6 455.1 C470 459.2 466.4 464.2 464.3 467.5 C462.2 470.8 461.2 472.6 461.2 475 C461.2 477.4 465 479.1 464.3 482.1 C463.6 485.2 458.3 489 456.9 493.3 C455.5 497.6 456.3 503.2 456 508.2 C455.7 513.2 456.1 519.1 455 523.1 C453.9 527.1 452.2 529.3 449.4 532.4 C446.6 535.5 443.9 538.6 438.3 541.7 C432.7 544.8 424.3 548.6 415.9 551 C407.5 553.4 397.3 554.9 388 556 C378.7 557.1 370.2 557.2 360 557.5 C349.8 557.8 342.4 558.6 326.5 558 C310.6 557.4 285 555.8 264.3 554 C243.6 552.2 222.9 549.5 202.2 547 C181.5 544.5 160.7 541.9 140.1 539.3 C119.5 536.7 88.8 532.8 78.5 531.5 L78.5 257Z"/>
<path fill="#00a8ff" d="M1409.5 240.7 C1407.1 240.7 1404 240.4 1395.2 240.7 C1386.4 241 1369.3 241.6 1356.4 242.6 C1343.5 243.6 1328.6 244.9 1317.6 246.5 C1306.6 248.1 1297.2 249.7 1290.4 252.3 C1283.6 254.9 1279 257.4 1276.8 262 C1274.6 266.6 1275.6 273.7 1277 280 C1278.4 286.3 1281.5 294.2 1285 300 C1288.5 305.8 1294.7 310.4 1298.2 314.5 C1301.8 318.6 1303.9 321.1 1306.3 324.3 C1308.7 327.5 1310.4 330.5 1312.5 333.6 C1314.6 336.7 1317.3 339.6 1318.7 343 C1320.1 346.4 1321 349.9 1321 353.8 C1321 357.7 1320.4 362.6 1318.7 366.2 C1317 369.8 1314.8 373.3 1310.9 375.6 C1307 377.9 1300.3 380.5 1295.4 380.2 C1290.5 379.9 1284.8 376.6 1281.4 374 C1278 371.4 1276.8 368.8 1275.2 364.7 C1273.7 360.6 1273.6 353.3 1272.1 349.2 C1270.6 345.1 1269.4 341.6 1266 340 C1262.6 338.4 1259.2 338.8 1251.6 339.7 C1244 340.6 1230.9 343.6 1220.6 345.5 C1210.2 347.4 1197.9 349 1189.5 351.3 C1181.1 353.6 1174.3 355.5 1170.1 359.1 C1165.9 362.7 1165 368.4 1164.3 372.7 C1163.6 377 1164.4 380.8 1166 385 C1167.6 389.2 1170.7 393.3 1174 398.1 C1177.3 402.9 1182.4 408.4 1185.6 413.6 C1188.8 418.8 1191.5 424 1193.4 429.2 C1195.4 434.4 1196 439.5 1197.3 444.7 C1198.6 449.9 1198.5 455.7 1201.1 460.2 C1203.7 464.7 1207.6 467.4 1212.8 471.9 C1218 476.4 1225.7 483.2 1232.2 487.4 C1238.7 491.6 1243.8 494.6 1251.6 497 C1259.4 499.4 1270.2 501.8 1278.8 502 C1287.4 502.2 1296.5 497.8 1303.2 498.2 C1309.9 498.6 1313.5 502.3 1318.7 504.4 C1323.9 506.5 1329 508.4 1334.2 510.7 C1339.4 513 1344.6 515.6 1349.8 518.4 C1355 521.2 1360.1 525.4 1365.3 527.7 C1370.5 530 1375.6 531.5 1380.8 532.4 C1386 533.3 1391.5 533.2 1396.3 533.2 C1401.1 533.2 1407.3 532.5 1409.5 532.4 L1409.5 240.7Z"/>
<path fill="#16ffe1" d="M78.5 351.4 C80.5 349.8 84.3 344.9 90.4 342.1 C96.5 339.4 107 335.7 115.3 334.9 C123.6 334.1 130.8 335.5 140.1 337.4 C149.4 339.3 160.8 344.4 171.2 346.1 C181.5 347.8 191.8 346.5 202.2 347.4 C212.5 348.3 223 348.4 233.3 351.4 C243.7 354.4 254 361.5 264.3 365.4 C274.6 369.3 285 372.9 295.4 374.7 C305.8 376.5 315.9 375.7 326.5 376.2 C337.1 376.7 348.1 377.3 358.7 377.5 C369.2 377.7 376.9 376.2 389.8 377.5 C402.7 378.8 423.4 382.1 436.3 385.2 C449.2 388.3 459.1 392.2 467.4 396.1 C475.7 400 482.5 405.4 486 408.5 C489.5 411.6 489.4 411.4 488.6 415 C487.8 418.6 484.8 424.6 481.1 429.9 C477.4 435.2 471.5 441.1 466.2 446.7 C460.9 452.3 454 458.4 449.4 463.4 C444.8 468.4 440.8 472.1 438.3 476.5 C435.8 480.9 435.1 484.2 434.5 489.5 C433.9 494.8 434.8 503.2 434.5 508.2 C434.2 513.2 434.6 515.6 432.7 519.3 C430.8 523 427.8 527.4 423.4 530.5 C419 533.6 414.1 536 406.6 538 C399.1 540 386.8 541.1 378.6 542.6 C370.4 544.1 366.2 546.3 357.5 547 C348.8 547.7 336.9 547.2 326.5 547 C316.1 546.8 305.8 546.3 295.4 545.5 C285 544.7 274.6 543.4 264.3 542.4 C254 541.4 243.7 540.3 233.3 539.3 C223 538.3 212.5 537.5 202.2 536.2 C191.8 534.9 181.5 532.8 171.2 531.5 C160.8 530.2 150.4 529.7 140.1 528.4 C129.8 527.1 119.4 525.6 109.1 523.8 C98.8 522 83.6 518.5 78.5 517.5 L78.5 351.4Z"/>
<path fill="#16ffe1" d="M1409.5 375.6 C1406 376.1 1394.7 377.7 1388.6 378.7 C1382.5 379.7 1378.2 380 1373 381.8 C1367.8 383.6 1362.7 386.9 1357.5 389.5 C1352.3 392.1 1347.2 395 1342 397.3 C1336.8 399.6 1331.7 401.7 1326.5 403.5 C1321.3 405.3 1316.1 406.8 1310.9 408.2 C1305.7 409.6 1300.6 411 1295.4 412 C1290.2 413 1285.1 413.3 1279.9 414.4 C1274.7 415.4 1268.5 416.8 1264.3 418.3 C1260.1 419.9 1257.5 421.5 1255 423.7 C1252.5 425.9 1250.4 428.6 1249.6 431.5 C1248.8 434.4 1249.2 438 1250.4 440.8 C1251.6 443.6 1253.8 445.9 1256.6 448.5 C1259.4 451.1 1263.6 454 1267.5 456.3 C1271.4 458.6 1275.2 460.4 1279.9 462.5 C1284.6 464.6 1290.2 466.6 1295.4 468.7 C1300.6 470.8 1305.7 472.8 1310.9 474.9 C1316.1 477 1321.3 479 1326.5 481.1 C1331.7 483.2 1336.8 485.1 1342 487.4 C1347.2 489.7 1352.3 492.5 1357.5 495.1 C1362.7 497.7 1367.8 500.8 1373 502.9 C1378.2 505 1382.5 506.1 1388.6 507.5 C1394.7 508.9 1406 510.8 1409.5 511.4 L1409.5 375.6Z"/>
<path fill="#5aff9d" d="M78.5 413.5 C81 412.5 89.5 410.7 93.5 407.3 C97.5 403.9 99.2 398.2 102.8 393.3 C106.4 388.4 109.1 381.4 115.3 377.8 C121.5 374.2 130.8 372.9 140.1 371.6 C149.4 370.3 160.8 370.3 171.2 370 C181.5 369.7 191.8 369 202.2 370 C212.5 371 223 372.3 233.3 376.2 C243.7 380.1 254 390.2 264.3 393.3 C274.6 396.4 285 394.9 295.4 394.9 C305.8 394.9 316.1 393.5 326.5 393.3 C336.9 393.1 347.1 393.4 357.5 393.9 C367.9 394.4 378.2 396 388.6 396.4 C399 396.8 409.2 396.1 419.6 396.4 C430 396.7 443.2 395.7 450.7 398 C458.1 400.3 462 406.6 464.3 410 C466.6 413.4 465.2 414.1 464.3 418.7 C463.4 423.3 461.3 431.5 458.8 437.4 C456.3 443.3 453.4 449.1 449.4 454.1 C445.3 459.1 440.1 463.5 434.5 467.2 C428.9 470.9 421.2 474 415.9 476.5 C410.6 479 405.7 479.3 402.9 482.1 C400.1 484.9 399.4 489 399.1 493.3 C398.8 497.6 401.3 504.2 401 508.2 C400.7 512.2 400.4 514.7 397.3 517.5 C394.2 520.3 388.6 523 382.4 524.9 C376.2 526.8 369.3 528.1 360 528.7 C350.7 529.3 337.3 528.7 326.5 528.4 C315.7 528.1 305.8 527.7 295.4 526.9 C285 526.1 274.6 524.6 264.3 523.8 C254 523 243.7 523 233.3 522.2 C223 521.4 212.5 520.4 202.2 519.1 C191.8 517.8 181.5 515.7 171.2 514.4 C160.8 513.1 150.4 512.6 140.1 511.3 C129.8 510 119.4 508 109.1 506.7 C98.8 505.4 83.6 504.1 78.5 503.6 L78.5 413.5Z"/>
<path fill="#5aff9d" d="M1409.5 412 C1406 412 1394.7 411.4 1388.6 412 C1382.5 412.6 1378.2 414.2 1373 415.9 C1367.8 417.6 1362.7 420 1357.5 422.1 C1352.3 424.2 1347.2 426.3 1342 428.4 C1336.8 430.5 1330.9 433.1 1326.5 434.6 C1322.1 436.2 1318.4 436.5 1315.6 437.7 C1312.8 438.9 1310.2 439.8 1309.4 441.6 C1308.6 443.4 1309.4 446.3 1310.9 448.5 C1312.5 450.7 1314.8 452.7 1318.7 454.8 C1322.6 456.9 1329 458.9 1334.2 461 C1339.4 463.1 1344.6 465.1 1349.8 467.2 C1355 469.3 1360.1 471.3 1365.3 473.4 C1370.5 475.5 1375.6 477.8 1380.8 479.6 C1386 481.4 1391.5 482.9 1396.3 484.2 C1401.1 485.5 1407.3 486.9 1409.5 487.4 L1409.5 412Z"/>
<path fill="#9dff5a" d="M78.5 447.7 C83.6 449 98.8 454.1 109.1 455.4 C119.4 456.7 129.8 456.2 140.1 455.4 C150.4 454.6 161.9 453.4 171.2 450.8 C180.5 448.2 189.8 443 196 439.9 C202.2 436.8 202.2 432.6 208.4 432.1 C214.6 431.6 224 434 233.3 436.8 C242.6 439.6 254 445.1 264.3 449.2 C274.6 453.3 286.1 456.9 295.4 461.6 C304.7 466.3 312.9 471 320.2 477.2 C327.4 483.4 335.8 493.7 338.9 498.9 C342 504.1 342 505.3 338.9 508.2 C335.8 511.1 327.4 514.7 320.2 516 C312.9 517.3 304.7 516.8 295.4 516 C286.1 515.2 274.6 512.9 264.3 511.3 C254 509.8 243.7 508.2 233.3 506.7 C223 505.1 212.5 503.3 202.2 502 C191.8 500.7 181.5 499.9 171.2 498.9 C160.8 497.9 150.4 497.4 140.1 495.8 C129.8 494.2 119.4 491.7 109.1 489.6 C98.8 487.5 83.6 484.4 78.5 483.4 L78.5 447.7Z"/>
<path fill="#9dff5a" d="M307.8 427.5 C309.6 424.4 314.5 418.6 320.2 416.6 C325.9 414.6 333.2 415.4 342 415.7 C350.8 416 362.6 418.6 373 418.2 C383.4 417.8 396.3 414.5 404.1 413.5 C411.9 412.5 414.4 411.2 419.6 412 C424.8 412.8 432 415.1 435.1 418.2 C438.2 421.3 439.9 426.5 438.3 430.6 C436.8 434.7 431.5 440.1 425.8 443 C420.1 445.9 412.9 447.9 404.1 447.7 C395.3 447.4 383.4 443.6 373 441.5 C362.6 439.4 350.8 435.5 342 435.2 C333.2 434.9 325.6 439.9 320.2 439.9 C314.8 439.9 311.5 437.3 309.4 435.2 C307.3 433.1 306 430.6 307.8 427.5Z"/>
<path fill="#9dff5a" d="M1409.5 437.7 C1406 437.3 1394.7 435.3 1388.6 435.3 C1382.5 435.3 1377.2 436.3 1373 437.7 C1368.8 439.1 1365.6 441.6 1363.7 443.9 C1361.8 446.2 1361.1 449 1361.4 451.6 C1361.7 454.2 1363.1 457.1 1365.3 459.4 C1367.5 461.7 1370.7 463.5 1374.6 465.6 C1378.5 467.7 1382.8 469.7 1388.6 471.8 C1394.4 473.9 1406 477 1409.5 478 L1409.5 437.7Z"/>
<path fill="#e4ff13" d="M223 478.9 C223 478.1 226.8 476.7 228.6 476.8 C230.4 476.9 234 478.5 234 479.3 C234 480.1 230.4 481.7 228.6 481.6 C226.8 481.5 223 479.7 223 478.9Z"/>
<use href="#coast" shape-rendering="auto"/>
</g>
<rect x="78.5" y="132.5" width="1331.0" height="656.0" fill="none" stroke="#000" stroke-width="3.33"/>
<rect x="78.5" y="831.5" width="111.5" height="66.0" fill="#0000ad"/>
<rect x="189.4" y="831.5" width="111.5" height="66.0" fill="#0000ff"/>
<rect x="300.3" y="831.5" width="111.5" height="66.0" fill="#0054ff"/>
<rect x="411.2" y="831.5" width="111.5" height="66.0" fill="#00a8ff"/>
<rect x="522.2" y="831.5" width="111.5" height="66.0" fill="#16ffe1"/>
<rect x="633.1" y="831.5" width="111.5" height="66.0" fill="#5aff9d"/>
<rect x="744" y="831.5" width="111.5" height="66.0" fill="#9dff5a"/>
<rect x="854.9" y="831.5" width="111.5" height="66.0" fill="#e4ff13"/>
<rect x="965.8" y="831.5" width="111.5" height="66.0" fill="#ffbd00"/>
<rect x="1076.8" y="831.5" width="111.5" height="66.0" fill="#ff6f00"/>
<rect x="1187.7" y="831.5" width="111.5" height="66.0" fill="#ff1e00"/>
<rect x="1298.6" y="831.5" width="110.9" height="66.0" fill="#ad0000"/>
<rect x="78.5" y="831.5" width="1331.0" height="66.0" fill="none" stroke="#000" stroke-width="3.33"/>
<line x1="78.5" y1="897.5" x2="78.5" y2="912.1" stroke="#000" stroke-width="3.33"/>
<text x="78.5" y="960" font-size="45" text-anchor="middle">0</text>
<line x1="300.3" y1="897.5" x2="300.3" y2="912.1" stroke="#000" stroke-width="3.33"/>
<text x="300.3" y="960" font-size="45" text-anchor="middle">5</text>
<line x1="522.2" y1="897.5" x2="522.2" y2="912.1" stroke="#000" stroke-width="3.33"/>
<text x="522.2" y="960" font-size="45" text-anchor="middle">10</text>
<line x1="744" y1="897.5" x2="744" y2="912.1" stroke="#000" stroke-width="3.33"/>
<text x="744.0" y="960" font-size="45" text-anchor="middle">15</text>
<line x1="965.8" y1="897.5" x2="965.8" y2="912.1" stroke="#000" stroke-width="3.33"/>
<text x="965.8" y="960" font-size="45" text-anchor="middle">20</text>
<line x1="1187.7" y1="897.5" x2="1187.7" y2="912.1" stroke="#000" stroke-width="3.33"/>
<text x="1187.7" y="960" font-size="45" text-anchor="middle">25</text>
<line x1="1409.5" y1="897.5" x2="1409.5" y2="912.1" stroke="#000" stroke-width="3.33"/>
<text x="1409.5" y="960" font-size="45" text-anchor="middle">30</text>
</g>
<g transform="translate(0,1970)">
<text x="85" y="109" font-size="53" textLength="1316" lengthAdjust="spacingAndGlyphs">Plasmasphere (h=1500.0 km), 2009-07-25 00:00 UT</text>
<g clip-path="url(#mc)" shape-rendering="crispEdges">
<path fill="#0000ff" d="M0 0H1500V1000H0Z"/>
<path fill="#16ffe1" d="M62.5 301.6 L78 301.6 C86.6 302 112.5 302.7 129.7 304.2 C146.9 305.7 164.2 308.8 181.4 310.4 C198.7 312 215.9 313.2 233.1 314 C250.4 314.9 267.6 314.2 284.8 315.6 C302.1 316.9 322.8 320.3 336.5 322.3 C350.3 324.3 357.2 326.9 367.6 327.5 C377.9 328.1 386.5 326.8 398.6 325.9 C410.7 325 424.4 323.6 440 322.3 C455.5 321 474.4 319.3 491.7 318.1 C508.9 317 526.1 316.4 543.4 315.6 C560.6 314.7 577.8 313.8 595.1 313 C612.3 312.1 629.6 311.4 646.8 310.4 C664 309.4 677.1 310.2 698.5 306.8 C719.9 303.3 754.5 293.8 775 289.7 C795.5 285.6 805.2 284.5 821.6 282 C837.9 279.4 856 276.1 873.3 274.2 C890.5 272.3 907.7 271.7 925 270.6 C942.2 269.5 959.5 268.6 976.7 267.5 C993.9 266.4 1011.2 265.3 1028.4 263.9 C1045.6 262.4 1062.9 260.4 1080.1 258.7 C1097.3 257 1114.6 254.6 1131.8 253.5 C1149 252.4 1166.3 251.7 1183.5 252 C1200.8 252.2 1222.3 253.9 1235.2 255.1 C1248.2 256.2 1252.5 256.6 1261.1 258.7 C1269.7 260.8 1278.3 264.5 1286.9 267.5 C1295.6 270.5 1304.2 273.9 1312.8 276.8 C1321.4 279.6 1330 282 1338.6 284.5 C1347.3 287.1 1355.9 290.1 1364.5 292.3 C1373.1 294.4 1382.8 296.4 1390.4 297.5 C1397.9 298.5 1406.7 298.3 1410 298.5 L1426.5 299.5 L1426.5 566 L1410 566 C1404.1 566 1386.7 565.6 1374.8 566 C1362.9 566.4 1353.3 567.9 1338.6 568.6 C1324 569.3 1304.2 569.7 1286.9 570.1 C1269.7 570.6 1250.7 570.4 1235.2 571.2 C1219.7 571.9 1205.1 573.1 1193.9 574.8 C1182.7 576.5 1177.5 579.5 1168 581.5 C1158.5 583.5 1147.3 586.3 1137 586.7 C1126.6 587.1 1116.3 585.8 1106 584.1 C1095.6 582.4 1085.3 579.4 1074.9 576.3 C1064.6 573.3 1053.4 568 1043.9 566 C1034.4 564 1027.5 563.6 1018.1 564.5 C1008.6 565.3 998.2 567.9 987 571.2 C975.8 574.4 965.5 580.4 950.8 584.1 C936.2 587.8 916.4 591.5 899.1 593.4 C881.9 595.3 864.7 594.4 847.4 595.5 C830.2 596.5 808.6 597.6 795.7 599.6 C782.8 601.6 782.6 603.2 769.9 607.4 C757.1 611.5 732.8 619.7 719.2 624.4 C705.6 629.2 700.2 632.2 688.2 635.8 C676.1 639.4 660.6 643.1 646.8 646.1 C633 649.2 619.2 652 605.4 653.9 C591.6 655.8 577.8 656.9 564.1 657.5 C550.3 658.1 536.5 657.9 522.7 657.5 C508.9 657.2 495.1 656.5 481.3 655.5 C467.5 654.4 455.5 653 440 651.3 C424.4 649.6 405.5 647.3 388.2 645.1 C371 643 352.1 640.4 336.5 638.4 C321 636.4 309 635.5 295.2 633.2 C281.4 630.9 265.9 628.3 253.8 624.4 C241.7 620.6 233.1 615.4 222.8 610 C212.4 604.5 203 597.5 191.8 591.9 C180.6 586.3 167.6 580 155.6 576.3 C143.5 572.6 132.3 570.9 119.4 569.6 C106.4 568.3 84.9 568.8 78 568.6 L62.5 568.6 L62.5 301.6Z"/>
<path fill="#0000ff" d="M1114.7 351.8 C1114.7 347 1118.6 341.8 1124.1 338.8 C1129.5 335.8 1139.6 333.7 1147.3 333.7 C1155.1 333.7 1165 335.6 1170.6 338.8 C1176.2 342.1 1180.9 348.6 1180.9 353.3 C1180.9 358.1 1176.2 364.1 1170.6 367.3 C1165 370.5 1155.1 372.4 1147.3 372.4 C1139.6 372.4 1129.5 370.7 1124.1 367.3 C1118.6 363.8 1114.7 356.5 1114.7 351.8Z"/>
<path fill="#0000ff" d="M977.3 382.8 C979.4 382.1 981.3 382.3 984.7 382.2 C988.1 382.1 994.3 381.7 997.8 382.2 C1001.2 382.7 1002.9 383.9 1005.2 385.2 C1007.5 386.4 1009.9 388.3 1011.7 389.8 C1013.6 391.4 1015.2 392.5 1016.4 394.5 C1017.6 396.5 1018.1 399.1 1018.7 401.9 C1019.3 404.7 1019.7 407.7 1019.9 411.2 C1020.2 414.8 1020.4 418.2 1020.3 423.4 C1020.3 428.5 1020.1 437 1019.7 442 C1019.2 447 1018.6 449.8 1017.8 453.2 C1016.9 456.6 1016.6 461.2 1014.5 462.5 C1012.4 463.7 1008 461.2 1005.2 460.6 C1002.4 460 999.9 460 997.8 458.8 C995.6 457.5 994.3 455.7 992.2 453.2 C990 450.7 987.2 447 984.7 443.9 C982.2 440.7 979.6 438 977.3 434.5 C974.9 431.1 972.6 427.1 970.7 423.4 C968.9 419.6 967.3 415.3 966.1 412.2 C964.8 409.1 963.7 407.2 963.3 404.7 C962.9 402.2 962.9 399.6 963.5 397.3 C964.1 394.9 965.6 392.6 967 390.7 C968.5 388.9 970.4 387.6 972.1 386.3 C973.9 385 975.2 383.5 977.3 382.8Z"/>
<path fill="#e4ff13" d="M62.5 344 L78 344 C83.2 343.8 98.7 342.8 109 343 C119.4 343.1 129.7 343.6 140 345 C150.4 346.5 160.7 348.9 171.1 351.8 C181.4 354.6 191.8 358.7 202.1 362.1 C212.4 365.5 224.5 371.1 233.1 372.4 C241.7 373.7 245.2 370.7 253.8 369.9 C262.4 369 275.4 368 284.8 367.3 C294.3 366.6 302.1 365.7 310.7 365.7 C319.3 365.7 327.1 366.8 336.5 367.3 C346 367.8 357.2 368.6 367.6 368.8 C377.9 369.1 386.5 369 398.6 368.8 C410.7 368.7 424.4 368.5 440 367.8 C455.5 367.1 474.4 366.1 491.7 364.7 C508.9 363.3 526.1 360.6 543.4 359.5 C560.6 358.4 582.2 358 595.1 358 C608 358 612.3 358 620.9 359.5 C629.6 361.1 638.2 364.3 646.8 367.3 C655.4 370.3 664 374.2 672.6 377.6 C681.3 381.1 689.9 384.9 698.5 388 C707.1 391 716.8 393.6 724.4 395.7 C731.9 397.9 737.3 399.2 744 400.9 C750.7 402.6 757.8 402.6 764.7 406.1 C771.6 409.5 779.3 415.5 785.4 421.6 C791.4 427.6 795.7 435.8 800.9 442.2 C806 448.7 813.4 454 816.4 460 C819.4 466 819.8 472.1 819 478.1 C818.1 484.1 815.1 491 811.2 496.2 C807.3 501.4 802.6 504.8 795.7 509.1 C788.8 513.4 778.5 517.3 769.9 522 C761.2 526.8 750.7 532.8 744 537.6 C737.3 542.3 735.4 545.3 729.5 550.5 C723.7 555.7 718.3 561.3 708.8 568.6 C699.4 575.9 684.7 587.5 672.6 594.4 C660.6 601.3 649.4 606.1 636.4 610 C623.5 613.8 608.9 615.6 595.1 617.7 C581.3 619.9 567.5 622.3 553.7 622.9 C539.9 623.5 526.1 622.2 512.3 621.3 C498.6 620.5 484.8 619.6 471 617.7 C457.2 615.8 443.4 613 429.6 610 C415.8 606.9 402 603.9 388.2 599.6 C374.5 595.3 360.7 589.7 346.9 584.1 C333.1 578.5 319.3 571.2 305.5 566 C291.7 560.8 277.9 557.8 264.1 553.1 C250.4 548.3 236.6 543.2 222.8 537.6 C209 532 195.2 525.1 181.4 519.5 C167.6 513.9 153 508.3 140 504 C127.1 499.6 114.2 495.8 103.9 493.6 C93.5 491.5 82.3 491.5 78 491 L62.5 491 L62.5 344Z"/>
<path fill="#e4ff13" d="M1426.5 346.6 L1410 346.6 C1402.4 346.2 1380.7 345.1 1364.5 344 C1348.3 342.9 1326.6 340.9 1312.8 339.9 C1299 338.8 1289.5 336.2 1281.8 337.8 C1274 339.3 1270.6 343.8 1266.3 349.2 C1261.9 354.5 1260.2 363.8 1255.9 369.9 C1251.6 375.9 1246.4 381.1 1240.4 385.4 C1234.4 389.7 1227.5 392.3 1219.7 395.7 C1212 399.2 1202.5 402.8 1193.9 406.1 C1185.2 409.3 1177.5 413.2 1168 415.4 C1158.5 417.5 1147.3 417.8 1137 419 C1126.6 420.2 1112.9 420.4 1106 422.6 C1099.1 424.8 1097.8 427.8 1095.6 431.9 C1093.5 436 1091.3 442.7 1093 447.4 C1094.8 452.1 1099.5 456.6 1106 460 C1112.4 463.4 1118.9 464.7 1131.8 467.8 C1144.7 470.8 1166.3 475.1 1183.5 478.1 C1200.8 481.1 1220.6 483 1235.2 485.9 C1249.9 488.7 1260.2 493 1271.4 495.2 C1282.6 497.3 1291.2 498.6 1302.4 498.8 C1313.7 499 1326.6 497.3 1338.6 496.2 C1350.7 495.1 1362.9 492.9 1374.8 492.1 C1386.7 491.2 1404.1 491.2 1410 491 L1426.5 491 L1426.5 346.6Z"/>
<path fill="#ff1e00" d="M248.6 459.8 C254 454.7 265.9 447.3 274.5 442.2 C283.1 437.2 291.7 432.8 300.3 429.3 C309 425.9 316.7 423.3 326.2 421.6 C335.7 419.8 346.9 419 357.2 419 C367.6 419 377.9 420.3 388.2 421.6 C398.6 422.9 408.9 425 419.3 426.7 C429.6 428.5 440 430.9 450.3 431.9 C460.6 432.9 470.1 433.1 481.3 432.9 C492.5 432.8 506.3 432.3 517.5 430.9 C528.7 429.4 539.1 425.9 548.5 424.2 C558 422.4 567.5 420.5 574.4 420.5 C581.3 420.5 586 422.3 589.9 424.2 C593.8 426 595.8 428.9 597.7 431.9 C599.6 434.9 601.3 432.4 601.3 442.2 C601.3 452.1 599.6 478.6 597.7 491 C595.8 503.5 593.4 509.1 589.9 516.9 C586.5 524.6 582.2 531.5 577 537.6 C571.8 543.6 566.2 549 558.9 553.1 C551.6 557.1 542.5 560.1 533 561.9 C523.6 563.6 513.2 563.5 502 563.4 C490.8 563.3 477.9 562.4 465.8 561.3 C453.7 560.3 440.8 559 429.6 557.2 C418.4 555.4 408.9 553.3 398.6 550.5 C388.2 547.6 377.9 544 367.6 540.1 C357.2 536.3 346 531.1 336.5 527.2 C327.1 523.3 319.3 519.9 310.7 516.9 C302.1 513.9 292.6 511.7 284.8 509.1 C277.1 506.5 270.2 504.8 264.1 501.4 C258.1 497.9 252.3 493.2 248.6 488.4 C245 483.7 242.4 477.7 242.4 472.9 C242.4 468.2 243.3 464.9 248.6 459.8Z"/>
<path fill="#ff1e00" d="M129.7 403.5 C130.6 401.9 132.3 401.1 134.9 401.9 C137.5 402.8 141.9 406.7 145.2 408.6 C148.5 410.6 154.1 412.1 154.5 413.8 C155 415.5 151.5 418.3 147.8 419 C144.1 419.7 135.3 419.2 132.3 417.9 C129.3 416.7 130.1 413.6 129.7 411.2 C129.3 408.8 128.8 405 129.7 403.5Z"/>
<use href="#coast" shape-rendering="auto"/>
</g>
<rect x="78.5" y="132.5" width="1331.0" height="656.0" fill="none" stroke="#000" stroke-width="3.33"/>
<rect x="78.5" y="831.5" width="333.4" height="66.0" fill="#0000ff"/>
<rect x="411.2" y="831.5" width="333.4" height="66.0" fill="#16ffe1"/>
<rect x="744" y="831.5" width="333.4" height="66.0" fill="#e4ff13"/>
<rect x="1076.8" y="831.5" width="332.8" height="66.0" fill="#ff1e00"/>
<rect x="78.5" y="831.5" width="1331.0" height="66.0" fill="none" stroke="#000" stroke-width="3.33"/>
<line x1="78.5" y1="897.5" x2="78.5" y2="912.1" stroke="#000" stroke-width="3.33"/>
<text x="78.5" y="960" font-size="45" text-anchor="middle">0.0</text>
<line x1="411.2" y1="897.5" x2="411.2" y2="912.1" stroke="#000" stroke-width="3.33"/>
<text x="411.2" y="960" font-size="45" text-anchor="middle">2.5</text>
<line x1="744" y1="897.5" x2="744" y2="912.1" stroke="#000" stroke-width="3.33"/>
<text x="744.0" y="960" font-size="45" text-anchor="middle">5.0</text>
<line x1="1076.8" y1="897.5" x2="1076.8" y2="912.1" stroke="#000" stroke-width="3.33"/>
<text x="1076.8" y="960" font-size="45" text-anchor="middle">7.5</text>
<line x1="1409.5" y1="897.5" x2="1409.5" y2="912.1" stroke="#000" stroke-width="3.33"/>
<text x="1409.5" y="960" font-size="45" text-anchor="middle">10.0</text>
</g>
</svg></body></html>
